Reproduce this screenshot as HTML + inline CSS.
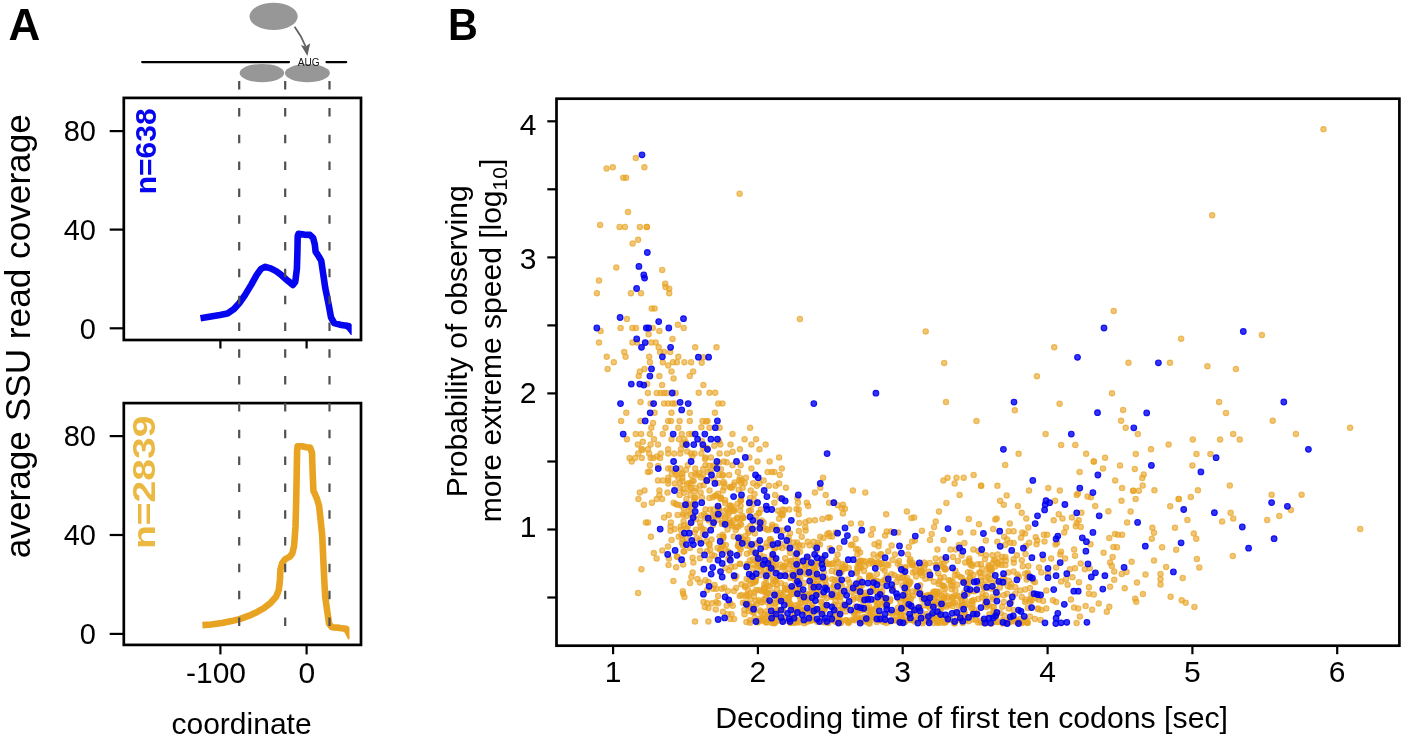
<!DOCTYPE html>
<html><head><meta charset="utf-8"><style>
html,body{margin:0;padding:0;background:#fff;width:1405px;height:740px;overflow:hidden}
svg{display:block;filter:blur(0.5px);font-family:"Liberation Sans",sans-serif}
</style></head><body>
<svg width="1405" height="740" viewBox="0 0 1405 740">
<rect width="1405" height="740" fill="#fff"/>
<!-- Panel labels -->
<text x="8.5" y="40" font-size="44" font-weight="bold">A</text>
<text transform="translate(448,40) scale(0.95,1)" font-size="43.5" font-weight="bold">B</text>

<!-- ===== Panel A diagram ===== -->
<g id="diagram">
<ellipse cx="273.6" cy="16.4" rx="24.1" ry="13.7" fill="#979797"/>
<path d="M294.6 26.8 Q301.5 36 305.6 46.5" fill="none" stroke="#606060" stroke-width="1.8"/>
<path d="M300.9 44.9 L305.5 46.6 L310.2 43.3 L307.4 56 Z" fill="#606060"/>
<line x1="142.2" y1="62.1" x2="289" y2="62.1" stroke="#000" stroke-width="2.3" stroke-linecap="round"/>
<line x1="326.5" y1="62.1" x2="346.2" y2="62.1" stroke="#000" stroke-width="2.3" stroke-linecap="round"/>
<ellipse cx="261.95" cy="73.1" rx="22.3" ry="9.2" fill="#979797"/>
<ellipse cx="307.4" cy="73.1" rx="22.5" ry="9.15" fill="#979797"/>
<text x="297.8" y="65.6" font-size="10.1" fill="#111">AUG</text>
</g>

<!-- ===== Panel A1 (blue) ===== -->
<g id="a1">
<polyline fill="none" stroke="#0505f0" stroke-width="6.6" stroke-linejoin="round" points="200.5,318.2 219.9,314.9 227.5,313.4 234,309 239.4,303 244.8,295.4 251.3,284.6 256.7,274.9 261,268.9 265.3,266.8 270.7,268.4 276.1,271.1 281.5,275.2 288,280.9 292.9,284.9 295.3,281.7 296.9,268.7 297.4,252.5 297.7,236.2 298.5,233.8 304.2,234.6 309.9,234.9 313.1,237.9 314.8,244.3 315.6,251.6 318.8,256.5 321.2,260.6 322.9,271.9 325.3,288.2 328.6,304.4 331,317.4 334.2,323 339.9,324.7 346.4,325.8 348.3,326.6"/>
<polygon fill="#0505f0" points="346.4,322.5 350.2,323.1 351.7,324.6 351.7,334.9 350.9,335 346.2,329.1"/>
<rect x="123.8" y="97.9" width="237.2" height="242.1" fill="none" stroke="#000" stroke-width="2.7"/>
<g stroke="#000" stroke-width="2.2">
<line x1="109.7" y1="131.1" x2="123.8" y2="131.1"/>
<line x1="109.7" y1="229.6" x2="123.8" y2="229.6"/>
<line x1="109.7" y1="328.3" x2="123.8" y2="328.3"/>
<line x1="220.4" y1="340" x2="220.4" y2="348.5"/>
<line x1="306.6" y1="340" x2="306.6" y2="348.5"/>
</g>
<g font-size="29" text-anchor="end">
<text x="96" y="141">80</text>
<text x="96" y="239.6">40</text>
<text x="96" y="338.5">0</text>
</g>
<text transform="translate(155.5,108.4) rotate(-90)" font-size="30" font-weight="bold" fill="#0505f0" text-anchor="end">n=638</text>
</g>

<!-- ===== Panel A2 (orange) ===== -->
<g id="a2">
<polyline fill="none" stroke="#e8a323" stroke-width="6.6" stroke-linejoin="round" points="202.4,625.1 211.2,624.5 222,623.1 231.5,621.1 239.6,619.1 249.1,615.7 257.2,611.9 263.9,608.2 270.7,602.8 276.1,596.8 278.8,590 279.9,580.5 280.4,569.7 282.2,563 285.5,558.9 289.6,556.9 292.3,553.5 294.1,546 295.5,526.7 296.2,500.3 296.7,474 297.1,451.1 297.6,446.2 302,446.2 306.4,447.2 310.2,447.6 312,452.9 312.7,474 313.4,490.7 316.9,498.6 319,505.6 320.4,517.9 322.2,535.5 323.4,561.3 324.4,582.6 325.2,596.7 327.2,610.9 329.1,623.7 331.9,627.2 339.7,627.9 345.4,628.7 346.5,629.5"/>
<polygon fill="#e8a323" points="345.4,625.4 348,625.9 349.5,627.6 349.5,638.9 348.3,639.7 344.3,632.3 343.5,632"/>
<rect x="123.8" y="403.1" width="237.2" height="241.8" fill="none" stroke="#000" stroke-width="2.7"/>
<g stroke="#000" stroke-width="2.2">
<line x1="109.7" y1="436.1" x2="123.8" y2="436.1"/>
<line x1="109.7" y1="535" x2="123.8" y2="535"/>
<line x1="109.7" y1="633.9" x2="123.8" y2="633.9"/>
<line x1="220.4" y1="644.9" x2="220.4" y2="654.4"/>
<line x1="306.6" y1="644.9" x2="306.6" y2="654.4"/>
</g>
<g font-size="29" text-anchor="end">
<text x="96" y="446">80</text>
<text x="96" y="544.6">40</text>
<text x="96" y="643.5">0</text>
</g>
<text x="186" y="682.5" font-size="30">-100</text>
<text x="306.8" y="682.5" font-size="30" text-anchor="middle">0</text>
<text x="171.5" y="733.5" font-size="30">coordinate</text>
<text transform="translate(155.4,415.6) rotate(-90) scale(1.22,1)" font-size="32" font-weight="bold" fill="#ebb842" text-anchor="end">n=2839</text>
</g>

<!-- dashed guide lines -->
<g stroke="#505050" stroke-width="2.2" stroke-dasharray="8.5 18.32">
<line x1="239.2" y1="81.1" x2="239.2" y2="640"/>
<line x1="285.2" y1="81.1" x2="285.2" y2="640"/>
<line x1="329.5" y1="81.1" x2="329.5" y2="640"/>
</g>

<text transform="translate(29.6,336.2) rotate(-90)" font-size="35.2" text-anchor="middle">average SSU read coverage</text>

<!-- ===== Panel B ===== -->
<g id="scatter"><g fill="#e8a323" fill-opacity="0.62" stroke="#e8a323" stroke-opacity="0.68" stroke-width="1.1"><circle cx="635.8" cy="158.0" r="2.70"/><circle cx="644.4" cy="167.3" r="2.70"/><circle cx="606.6" cy="168.6" r="2.70"/><circle cx="612.8" cy="167.3" r="2.70"/><circle cx="623.3" cy="177.8" r="2.70"/><circle cx="626.1" cy="177.8" r="2.70"/><circle cx="739.6" cy="193.7" r="2.70"/><circle cx="628.0" cy="212.0" r="2.70"/><circle cx="600.1" cy="224.9" r="2.70"/><circle cx="619.6" cy="226.9" r="2.70"/><circle cx="624.9" cy="226.9" r="2.70"/><circle cx="639.9" cy="226.9" r="2.70"/><circle cx="646.8" cy="226.9" r="2.70"/><circle cx="646.8" cy="226.9" r="2.70"/><circle cx="638.1" cy="239.8" r="2.70"/><circle cx="632.6" cy="243.6" r="2.70"/><circle cx="616.3" cy="267.6" r="2.70"/><circle cx="662.2" cy="270.0" r="2.70"/><circle cx="599.0" cy="280.6" r="2.70"/><circle cx="665.2" cy="283.8" r="2.70"/><circle cx="665.5" cy="287.0" r="2.70"/><circle cx="669.2" cy="288.7" r="2.70"/><circle cx="669.2" cy="293.2" r="2.70"/><circle cx="596.9" cy="293.2" r="2.70"/><circle cx="630.9" cy="293.2" r="2.70"/><circle cx="641.0" cy="293.2" r="2.70"/><circle cx="651.7" cy="308.6" r="2.70"/><circle cx="654.6" cy="308.6" r="2.70"/><circle cx="626.9" cy="319.0" r="2.70"/><circle cx="678.0" cy="324.8" r="2.70"/><circle cx="799.9" cy="319.0" r="2.70"/><circle cx="1323.5" cy="129.3" r="2.70"/><circle cx="1212.2" cy="215.2" r="2.70"/><circle cx="1113.7" cy="310.9" r="2.70"/><circle cx="620.6" cy="328.0" r="2.70"/><circle cx="632.4" cy="328.0" r="2.70"/><circle cx="636.0" cy="328.0" r="2.70"/><circle cx="652.8" cy="328.0" r="2.70"/><circle cx="683.7" cy="328.0" r="2.70"/><circle cx="600.6" cy="331.1" r="2.70"/><circle cx="659.4" cy="331.1" r="2.70"/><circle cx="648.6" cy="334.2" r="2.70"/><circle cx="672.5" cy="338.9" r="2.70"/><circle cx="599.0" cy="342.6" r="2.70"/><circle cx="632.4" cy="342.6" r="2.70"/><circle cx="637.1" cy="342.6" r="2.70"/><circle cx="651.3" cy="342.6" r="2.70"/><circle cx="655.7" cy="342.6" r="2.70"/><circle cx="658.7" cy="347.3" r="2.70"/><circle cx="695.2" cy="347.3" r="2.70"/><circle cx="624.2" cy="352.0" r="2.70"/><circle cx="660.1" cy="352.0" r="2.70"/><circle cx="670.2" cy="352.0" r="2.70"/><circle cx="664.1" cy="352.0" r="2.70"/><circle cx="606.7" cy="356.8" r="2.70"/><circle cx="625.6" cy="356.8" r="2.70"/><circle cx="649.2" cy="356.8" r="2.70"/><circle cx="678.3" cy="356.8" r="2.70"/><circle cx="613.8" cy="362.2" r="2.70"/><circle cx="649.9" cy="362.2" r="2.70"/><circle cx="662.8" cy="362.2" r="2.70"/><circle cx="672.9" cy="362.2" r="2.70"/><circle cx="676.9" cy="362.2" r="2.70"/><circle cx="684.4" cy="362.2" r="2.70"/><circle cx="691.1" cy="362.2" r="2.70"/><circle cx="668.2" cy="365.5" r="2.70"/><circle cx="607.6" cy="368.9" r="2.70"/><circle cx="644.5" cy="368.9" r="2.70"/><circle cx="639.8" cy="371.6" r="2.70"/><circle cx="671.5" cy="371.6" r="2.70"/><circle cx="693.2" cy="371.6" r="2.70"/><circle cx="638.7" cy="376.1" r="2.70"/><circle cx="659.4" cy="376.1" r="2.70"/><circle cx="689.8" cy="376.1" r="2.70"/><circle cx="673.6" cy="378.4" r="2.70"/><circle cx="647.2" cy="384.1" r="2.70"/><circle cx="662.1" cy="385.1" r="2.70"/><circle cx="647.9" cy="393.0" r="2.70"/><circle cx="656.7" cy="393.0" r="2.70"/><circle cx="660.7" cy="393.0" r="2.70"/><circle cx="664.1" cy="393.0" r="2.70"/><circle cx="666.8" cy="393.0" r="2.70"/><circle cx="675.6" cy="393.0" r="2.70"/><circle cx="640.5" cy="402.0" r="2.70"/><circle cx="650.6" cy="403.6" r="2.70"/><circle cx="664.1" cy="403.6" r="2.70"/><circle cx="668.2" cy="403.6" r="2.70"/><circle cx="672.2" cy="403.6" r="2.70"/><circle cx="674.9" cy="403.6" r="2.70"/><circle cx="626.3" cy="412.8" r="2.70"/><circle cx="654.6" cy="412.8" r="2.70"/><circle cx="671.5" cy="412.8" r="2.70"/><circle cx="689.8" cy="412.8" r="2.70"/><circle cx="621.1" cy="420.9" r="2.70"/><circle cx="640.5" cy="420.9" r="2.70"/><circle cx="668.2" cy="420.9" r="2.70"/><circle cx="670.9" cy="420.9" r="2.70"/><circle cx="679.6" cy="420.9" r="2.70"/><circle cx="689.8" cy="420.9" r="2.70"/><circle cx="716.5" cy="347.3" r="2.70"/><circle cx="703.4" cy="357.2" r="2.70"/><circle cx="701.7" cy="362.8" r="2.70"/><circle cx="703.4" cy="385.1" r="2.70"/><circle cx="698.7" cy="392.8" r="2.70"/><circle cx="709.5" cy="392.8" r="2.70"/><circle cx="715.2" cy="392.8" r="2.70"/><circle cx="718.3" cy="403.6" r="2.70"/><circle cx="722.4" cy="403.6" r="2.70"/><circle cx="714.9" cy="412.8" r="2.70"/><circle cx="702.5" cy="420.9" r="2.70"/><circle cx="707.5" cy="420.9" r="2.70"/><circle cx="925.7" cy="331.4" r="2.70"/><circle cx="1054.2" cy="347.3" r="2.70"/><circle cx="944.2" cy="362.9" r="2.70"/><circle cx="1036.9" cy="376.2" r="2.70"/><circle cx="1112.0" cy="393.2" r="2.70"/><circle cx="946.0" cy="402.1" r="2.70"/><circle cx="1059.6" cy="403.7" r="2.70"/><circle cx="1014.8" cy="410.3" r="2.70"/><circle cx="976.5" cy="421.1" r="2.70"/><circle cx="1261.9" cy="335.1" r="2.70"/><circle cx="1181.1" cy="338.7" r="2.70"/><circle cx="1128.5" cy="362.8" r="2.70"/><circle cx="1170.0" cy="362.8" r="2.70"/><circle cx="1207.4" cy="366.2" r="2.70"/><circle cx="1235.9" cy="369.1" r="2.70"/><circle cx="1219.1" cy="402.0" r="2.70"/><circle cx="1123.1" cy="409.9" r="2.70"/><circle cx="1226.0" cy="412.9" r="2.70"/><circle cx="1121.1" cy="420.8" r="2.70"/><circle cx="1272.7" cy="420.8" r="2.70"/><circle cx="651.3" cy="427.7" r="2.70"/><circle cx="665.5" cy="427.7" r="2.70"/><circle cx="678.3" cy="427.7" r="2.70"/><circle cx="635.7" cy="434.1" r="2.70"/><circle cx="641.1" cy="434.1" r="2.70"/><circle cx="649.9" cy="434.1" r="2.70"/><circle cx="662.8" cy="434.1" r="2.70"/><circle cx="681.7" cy="434.1" r="2.70"/><circle cx="689.1" cy="434.1" r="2.70"/><circle cx="691.8" cy="434.1" r="2.70"/><circle cx="626.9" cy="439.2" r="2.70"/><circle cx="654.0" cy="439.2" r="2.70"/><circle cx="671.5" cy="439.2" r="2.70"/><circle cx="679.0" cy="439.2" r="2.70"/><circle cx="684.4" cy="439.2" r="2.70"/><circle cx="637.8" cy="444.6" r="2.70"/><circle cx="650.6" cy="444.6" r="2.70"/><circle cx="658.0" cy="444.6" r="2.70"/><circle cx="647.9" cy="449.3" r="2.70"/><circle cx="668.2" cy="449.3" r="2.70"/><circle cx="681.0" cy="449.3" r="2.70"/><circle cx="638.2" cy="453.6" r="2.70"/><circle cx="649.2" cy="453.6" r="2.70"/><circle cx="660.7" cy="453.6" r="2.70"/><circle cx="668.2" cy="453.6" r="2.70"/><circle cx="674.2" cy="453.6" r="2.70"/><circle cx="680.3" cy="453.6" r="2.70"/><circle cx="691.1" cy="453.6" r="2.70"/><circle cx="694.5" cy="453.6" r="2.70"/><circle cx="629.6" cy="458.1" r="2.70"/><circle cx="635.1" cy="458.1" r="2.70"/><circle cx="641.8" cy="458.1" r="2.70"/><circle cx="650.6" cy="458.1" r="2.70"/><circle cx="653.3" cy="458.1" r="2.70"/><circle cx="660.1" cy="458.1" r="2.70"/><circle cx="631.7" cy="461.5" r="2.70"/><circle cx="649.9" cy="465.3" r="2.70"/><circle cx="687.8" cy="465.3" r="2.70"/><circle cx="668.2" cy="468.6" r="2.70"/><circle cx="670.9" cy="468.6" r="2.70"/><circle cx="680.3" cy="468.6" r="2.70"/><circle cx="695.2" cy="468.6" r="2.70"/><circle cx="647.9" cy="472.0" r="2.70"/><circle cx="674.9" cy="472.0" r="2.70"/><circle cx="691.1" cy="475.0" r="2.70"/><circle cx="676.3" cy="475.0" r="2.70"/><circle cx="668.2" cy="477.7" r="2.70"/><circle cx="678.3" cy="477.7" r="2.70"/><circle cx="682.4" cy="477.7" r="2.70"/><circle cx="658.0" cy="480.4" r="2.70"/><circle cx="662.8" cy="480.4" r="2.70"/><circle cx="668.2" cy="480.4" r="2.70"/><circle cx="692.5" cy="480.4" r="2.70"/><circle cx="668.2" cy="483.4" r="2.70"/><circle cx="674.9" cy="483.4" r="2.70"/><circle cx="691.1" cy="483.4" r="2.70"/><circle cx="644.5" cy="490.5" r="2.70"/><circle cx="659.4" cy="490.5" r="2.70"/><circle cx="639.8" cy="492.6" r="2.70"/><circle cx="667.5" cy="492.6" r="2.70"/><circle cx="659.4" cy="495.0" r="2.70"/><circle cx="679.6" cy="495.0" r="2.70"/><circle cx="690.5" cy="495.0" r="2.70"/><circle cx="638.4" cy="499.1" r="2.70"/><circle cx="656.7" cy="499.1" r="2.70"/><circle cx="662.1" cy="499.1" r="2.70"/><circle cx="686.4" cy="499.1" r="2.70"/><circle cx="673.6" cy="502.7" r="2.70"/><circle cx="675.6" cy="504.1" r="2.70"/><circle cx="651.9" cy="502.7" r="2.70"/><circle cx="643.8" cy="504.7" r="2.70"/><circle cx="677.6" cy="504.7" r="2.70"/><circle cx="683.7" cy="508.1" r="2.70"/><circle cx="691.1" cy="508.1" r="2.70"/><circle cx="677.6" cy="514.9" r="2.70"/><circle cx="683.0" cy="514.9" r="2.70"/><circle cx="668.8" cy="514.9" r="2.70"/><circle cx="664.1" cy="517.6" r="2.70"/><circle cx="645.9" cy="522.6" r="2.70"/><circle cx="647.9" cy="522.6" r="2.70"/><circle cx="670.9" cy="522.6" r="2.70"/><circle cx="719.6" cy="427.7" r="2.70"/><circle cx="709.5" cy="427.7" r="2.70"/><circle cx="750.1" cy="427.7" r="2.70"/><circle cx="732.5" cy="434.1" r="2.70"/><circle cx="744.6" cy="439.2" r="2.70"/><circle cx="756.1" cy="439.2" r="2.70"/><circle cx="720.3" cy="444.6" r="2.70"/><circle cx="730.5" cy="444.6" r="2.70"/><circle cx="751.4" cy="444.6" r="2.70"/><circle cx="765.6" cy="444.6" r="2.70"/><circle cx="739.9" cy="449.3" r="2.70"/><circle cx="759.5" cy="449.3" r="2.70"/><circle cx="719.6" cy="453.6" r="2.70"/><circle cx="727.1" cy="453.6" r="2.70"/><circle cx="701.4" cy="453.6" r="2.70"/><circle cx="705.5" cy="457.4" r="2.70"/><circle cx="710.9" cy="457.4" r="2.70"/><circle cx="749.4" cy="457.4" r="2.70"/><circle cx="779.1" cy="457.4" r="2.70"/><circle cx="723.7" cy="461.5" r="2.70"/><circle cx="757.5" cy="461.5" r="2.70"/><circle cx="769.6" cy="461.5" r="2.70"/><circle cx="705.5" cy="465.3" r="2.70"/><circle cx="732.5" cy="465.3" r="2.70"/><circle cx="740.6" cy="465.3" r="2.70"/><circle cx="751.4" cy="468.6" r="2.70"/><circle cx="781.8" cy="468.6" r="2.70"/><circle cx="737.9" cy="472.0" r="2.70"/><circle cx="767.6" cy="472.0" r="2.70"/><circle cx="771.7" cy="472.0" r="2.70"/><circle cx="774.4" cy="472.0" r="2.70"/><circle cx="729.1" cy="475.0" r="2.70"/><circle cx="719.0" cy="475.0" r="2.70"/><circle cx="723.0" cy="475.0" r="2.70"/><circle cx="702.8" cy="475.0" r="2.70"/><circle cx="779.8" cy="475.0" r="2.70"/><circle cx="746.0" cy="477.7" r="2.70"/><circle cx="823.0" cy="477.7" r="2.70"/><circle cx="739.9" cy="477.7" r="2.70"/><circle cx="739.2" cy="480.4" r="2.70"/><circle cx="763.6" cy="480.4" r="2.70"/><circle cx="724.4" cy="483.4" r="2.70"/><circle cx="759.5" cy="483.4" r="2.70"/><circle cx="779.1" cy="483.4" r="2.70"/><circle cx="700.1" cy="485.8" r="2.70"/><circle cx="756.8" cy="485.8" r="2.70"/><circle cx="769.0" cy="485.8" r="2.70"/><circle cx="775.7" cy="485.8" r="2.70"/><circle cx="731.8" cy="487.8" r="2.70"/><circle cx="742.6" cy="487.8" r="2.70"/><circle cx="785.9" cy="487.8" r="2.70"/><circle cx="820.3" cy="487.8" r="2.70"/><circle cx="709.5" cy="490.5" r="2.70"/><circle cx="750.7" cy="490.5" r="2.70"/><circle cx="723.0" cy="490.5" r="2.70"/><circle cx="814.9" cy="492.6" r="2.70"/><circle cx="775.1" cy="495.0" r="2.70"/><circle cx="825.7" cy="495.0" r="2.70"/><circle cx="709.5" cy="498.0" r="2.70"/><circle cx="720.3" cy="498.0" r="2.70"/><circle cx="750.1" cy="498.0" r="2.70"/><circle cx="779.8" cy="498.0" r="2.70"/><circle cx="797.4" cy="498.0" r="2.70"/><circle cx="740.6" cy="500.7" r="2.70"/><circle cx="774.4" cy="502.7" r="2.70"/><circle cx="798.0" cy="502.7" r="2.70"/><circle cx="829.1" cy="502.7" r="2.70"/><circle cx="806.8" cy="502.7" r="2.70"/><circle cx="731.8" cy="506.1" r="2.70"/><circle cx="740.6" cy="506.1" r="2.70"/><circle cx="808.2" cy="506.1" r="2.70"/><circle cx="705.5" cy="509.5" r="2.70"/><circle cx="782.5" cy="509.5" r="2.70"/><circle cx="789.2" cy="509.5" r="2.70"/><circle cx="798.7" cy="509.5" r="2.70"/><circle cx="760.9" cy="509.5" r="2.70"/><circle cx="704.1" cy="514.2" r="2.70"/><circle cx="728.4" cy="514.2" r="2.70"/><circle cx="782.5" cy="514.2" r="2.70"/><circle cx="798.7" cy="514.2" r="2.70"/><circle cx="743.3" cy="517.6" r="2.70"/><circle cx="829.8" cy="517.6" r="2.70"/><circle cx="805.5" cy="522.3" r="2.70"/><circle cx="814.9" cy="520.3" r="2.70"/><circle cx="700.1" cy="522.6" r="2.70"/><circle cx="763.6" cy="522.6" r="2.70"/><circle cx="852.9" cy="490.5" r="2.70"/><circle cx="865.3" cy="492.6" r="2.70"/><circle cx="841.7" cy="508.1" r="2.70"/><circle cx="943.4" cy="480.4" r="2.70"/><circle cx="947.5" cy="477.7" r="2.70"/><circle cx="956.5" cy="477.7" r="2.70"/><circle cx="963.7" cy="477.7" r="2.70"/><circle cx="973.6" cy="475.0" r="2.70"/><circle cx="954.6" cy="483.4" r="2.70"/><circle cx="959.6" cy="494.9" r="2.70"/><circle cx="906.9" cy="511.5" r="2.70"/><circle cx="914.1" cy="517.6" r="2.70"/><circle cx="939.0" cy="511.5" r="2.70"/><circle cx="935.7" cy="521.6" r="2.70"/><circle cx="850.9" cy="523.6" r="2.70"/><circle cx="861.0" cy="523.6" r="2.70"/><circle cx="1045.6" cy="434.1" r="2.70"/><circle cx="1061.1" cy="444.9" r="2.70"/><circle cx="1075.3" cy="444.9" r="2.70"/><circle cx="1018.6" cy="453.8" r="2.70"/><circle cx="1086.1" cy="453.8" r="2.70"/><circle cx="1105.1" cy="457.8" r="2.70"/><circle cx="1093.8" cy="461.5" r="2.70"/><circle cx="1093.8" cy="461.5" r="2.70"/><circle cx="1103.0" cy="468.6" r="2.70"/><circle cx="1079.6" cy="472.0" r="2.70"/><circle cx="1115.2" cy="480.4" r="2.70"/><circle cx="981.1" cy="485.8" r="2.70"/><circle cx="981.1" cy="485.8" r="2.70"/><circle cx="997.4" cy="485.8" r="2.70"/><circle cx="1048.3" cy="488.1" r="2.70"/><circle cx="1059.8" cy="490.5" r="2.70"/><circle cx="1029.0" cy="490.5" r="2.70"/><circle cx="1078.0" cy="493.6" r="2.70"/><circle cx="1076.7" cy="495.0" r="2.70"/><circle cx="1087.5" cy="496.6" r="2.70"/><circle cx="1090.9" cy="497.3" r="2.70"/><circle cx="1000.1" cy="500.7" r="2.70"/><circle cx="1003.7" cy="504.7" r="2.70"/><circle cx="1055.1" cy="500.7" r="2.70"/><circle cx="1017.9" cy="506.1" r="2.70"/><circle cx="1095.2" cy="506.1" r="2.70"/><circle cx="1108.4" cy="511.2" r="2.70"/><circle cx="1021.7" cy="512.8" r="2.70"/><circle cx="1058.7" cy="514.2" r="2.70"/><circle cx="1081.4" cy="512.8" r="2.70"/><circle cx="996.7" cy="518.6" r="2.70"/><circle cx="1026.3" cy="518.6" r="2.70"/><circle cx="1062.5" cy="518.6" r="2.70"/><circle cx="1053.7" cy="520.3" r="2.70"/><circle cx="1071.9" cy="517.6" r="2.70"/><circle cx="1078.7" cy="520.3" r="2.70"/><circle cx="1076.7" cy="523.0" r="2.70"/><circle cx="979.0" cy="524.3" r="2.70"/><circle cx="1009.8" cy="523.4" r="2.70"/><circle cx="1125.7" cy="427.8" r="2.70"/><circle cx="1350.1" cy="427.8" r="2.70"/><circle cx="1137.8" cy="434.1" r="2.70"/><circle cx="1192.8" cy="439.6" r="2.70"/><circle cx="1220.1" cy="439.6" r="2.70"/><circle cx="1233.2" cy="434.1" r="2.70"/><circle cx="1239.7" cy="439.6" r="2.70"/><circle cx="1295.9" cy="434.1" r="2.70"/><circle cx="1168.6" cy="444.6" r="2.70"/><circle cx="1151.0" cy="449.3" r="2.70"/><circle cx="1135.8" cy="453.9" r="2.70"/><circle cx="1196.5" cy="453.9" r="2.70"/><circle cx="1210.4" cy="453.9" r="2.70"/><circle cx="1120.0" cy="465.4" r="2.70"/><circle cx="1192.4" cy="465.4" r="2.70"/><circle cx="1134.8" cy="468.9" r="2.70"/><circle cx="1143.7" cy="474.5" r="2.70"/><circle cx="1142.3" cy="478.0" r="2.70"/><circle cx="1142.7" cy="485.6" r="2.70"/><circle cx="1229.8" cy="485.6" r="2.70"/><circle cx="1122.1" cy="488.1" r="2.70"/><circle cx="1133.2" cy="490.7" r="2.70"/><circle cx="1133.2" cy="490.7" r="2.70"/><circle cx="1138.8" cy="490.7" r="2.70"/><circle cx="1154.4" cy="490.3" r="2.70"/><circle cx="1197.9" cy="490.3" r="2.70"/><circle cx="1190.8" cy="497.0" r="2.70"/><circle cx="1178.7" cy="499.0" r="2.70"/><circle cx="1178.7" cy="499.0" r="2.70"/><circle cx="1271.6" cy="494.7" r="2.70"/><circle cx="1301.6" cy="494.7" r="2.70"/><circle cx="1121.5" cy="500.8" r="2.70"/><circle cx="1135.6" cy="499.0" r="2.70"/><circle cx="1290.9" cy="509.9" r="2.70"/><circle cx="1170.2" cy="506.3" r="2.70"/><circle cx="1130.6" cy="511.5" r="2.70"/><circle cx="1230.6" cy="512.7" r="2.70"/><circle cx="1233.2" cy="518.6" r="2.70"/><circle cx="1187.4" cy="520.0" r="2.70"/><circle cx="1222.1" cy="521.6" r="2.70"/><circle cx="1267.2" cy="520.0" r="2.70"/><circle cx="1279.3" cy="516.0" r="2.70"/><circle cx="1127.1" cy="522.4" r="2.70"/><circle cx="670.5" cy="526.6" r="2.70"/><circle cx="674.6" cy="529.1" r="2.70"/><circle cx="670.5" cy="530.7" r="2.70"/><circle cx="681.1" cy="529.9" r="2.70"/><circle cx="694.7" cy="532.4" r="2.70"/><circle cx="650.9" cy="536.8" r="2.70"/><circle cx="678.7" cy="536.8" r="2.70"/><circle cx="671.6" cy="540.0" r="2.70"/><circle cx="681.9" cy="543.0" r="2.70"/><circle cx="668.0" cy="546.6" r="2.70"/><circle cx="662.3" cy="550.4" r="2.70"/><circle cx="684.4" cy="551.2" r="2.70"/><circle cx="690.1" cy="547.9" r="2.70"/><circle cx="653.8" cy="553.1" r="2.70"/><circle cx="677.0" cy="556.4" r="2.70"/><circle cx="656.6" cy="558.5" r="2.70"/><circle cx="668.9" cy="558.5" r="2.70"/><circle cx="692.6" cy="557.7" r="2.70"/><circle cx="693.4" cy="562.6" r="2.70"/><circle cx="668.5" cy="565.1" r="2.70"/><circle cx="676.2" cy="567.2" r="2.70"/><circle cx="683.2" cy="564.6" r="2.70"/><circle cx="641.4" cy="569.2" r="2.70"/><circle cx="692.6" cy="572.4" r="2.70"/><circle cx="691.4" cy="577.0" r="2.70"/><circle cx="673.4" cy="580.9" r="2.70"/><circle cx="690.1" cy="583.1" r="2.70"/><circle cx="638.1" cy="592.9" r="2.70"/><circle cx="682.8" cy="591.2" r="2.70"/><circle cx="683.2" cy="593.7" r="2.70"/><circle cx="684.4" cy="597.0" r="2.70"/><circle cx="695.0" cy="621.5" r="2.70"/><circle cx="872.8" cy="529.1" r="2.70"/><circle cx="886.7" cy="531.5" r="2.70"/><circle cx="890.8" cy="531.5" r="2.70"/><circle cx="898.2" cy="532.4" r="2.70"/><circle cx="921.9" cy="530.7" r="2.70"/><circle cx="934.1" cy="527.0" r="2.70"/><circle cx="931.7" cy="534.0" r="2.70"/><circle cx="960.3" cy="532.4" r="2.70"/><circle cx="973.4" cy="532.4" r="2.70"/><circle cx="855.6" cy="538.9" r="2.70"/><circle cx="871.2" cy="534.8" r="2.70"/><circle cx="885.1" cy="535.6" r="2.70"/><circle cx="930.0" cy="540.0" r="2.70"/><circle cx="912.1" cy="541.4" r="2.70"/><circle cx="891.6" cy="545.4" r="2.70"/><circle cx="908.8" cy="547.1" r="2.70"/><circle cx="878.5" cy="546.3" r="2.70"/><circle cx="852.4" cy="544.6" r="2.70"/><circle cx="937.4" cy="549.5" r="2.70"/><circle cx="950.5" cy="549.5" r="2.70"/><circle cx="973.4" cy="549.5" r="2.70"/><circle cx="857.3" cy="554.4" r="2.70"/><circle cx="873.6" cy="554.4" r="2.70"/><circle cx="880.2" cy="554.4" r="2.70"/><circle cx="894.9" cy="554.4" r="2.70"/><circle cx="908.0" cy="554.4" r="2.70"/><circle cx="858.1" cy="549.5" r="2.70"/><circle cx="888.3" cy="551.2" r="2.70"/><circle cx="910.4" cy="559.3" r="2.70"/><circle cx="899.0" cy="561.0" r="2.70"/><circle cx="924.3" cy="562.6" r="2.70"/><circle cx="957.9" cy="561.0" r="2.70"/><circle cx="965.2" cy="562.6" r="2.70"/><circle cx="971.8" cy="564.3" r="2.70"/><circle cx="863.0" cy="561.0" r="2.70"/><circle cx="868.7" cy="563.4" r="2.70"/><circle cx="872.0" cy="561.0" r="2.70"/><circle cx="879.3" cy="564.3" r="2.70"/><circle cx="886.7" cy="564.3" r="2.70"/><circle cx="839.3" cy="547.9" r="2.70"/><circle cx="837.6" cy="554.4" r="2.70"/><circle cx="941.5" cy="559.3" r="2.70"/><circle cx="940.7" cy="565.1" r="2.70"/><circle cx="912.9" cy="572.4" r="2.70"/><circle cx="916.1" cy="576.5" r="2.70"/><circle cx="955.4" cy="570.8" r="2.70"/><circle cx="938.2" cy="573.2" r="2.70"/><circle cx="970.1" cy="577.3" r="2.70"/><circle cx="876.9" cy="574.1" r="2.70"/><circle cx="891.6" cy="574.1" r="2.70"/><circle cx="882.6" cy="568.3" r="2.70"/><circle cx="842.5" cy="564.3" r="2.70"/><circle cx="857.3" cy="567.5" r="2.70"/><circle cx="898.2" cy="577.3" r="2.70"/><circle cx="943.9" cy="577.3" r="2.70"/><circle cx="950.5" cy="580.6" r="2.70"/><circle cx="993.2" cy="529.1" r="2.70"/><circle cx="1008.7" cy="531.2" r="2.70"/><circle cx="1013.6" cy="531.2" r="2.70"/><circle cx="1028.3" cy="527.5" r="2.70"/><circle cx="1066.0" cy="527.5" r="2.70"/><circle cx="1075.8" cy="526.3" r="2.70"/><circle cx="1080.7" cy="527.0" r="2.70"/><circle cx="1115.0" cy="534.0" r="2.70"/><circle cx="1109.3" cy="538.1" r="2.70"/><circle cx="1090.5" cy="544.3" r="2.70"/><circle cx="985.8" cy="540.5" r="2.70"/><circle cx="997.3" cy="541.7" r="2.70"/><circle cx="1007.1" cy="539.4" r="2.70"/><circle cx="1010.3" cy="542.7" r="2.70"/><circle cx="1013.6" cy="543.0" r="2.70"/><circle cx="1021.0" cy="537.8" r="2.70"/><circle cx="1029.2" cy="542.7" r="2.70"/><circle cx="1035.7" cy="537.3" r="2.70"/><circle cx="1037.3" cy="540.5" r="2.70"/><circle cx="1036.5" cy="544.3" r="2.70"/><circle cx="1043.9" cy="534.8" r="2.70"/><circle cx="1047.1" cy="534.8" r="2.70"/><circle cx="1057.0" cy="543.0" r="2.70"/><circle cx="1064.3" cy="532.4" r="2.70"/><circle cx="1074.1" cy="549.5" r="2.70"/><circle cx="1075.0" cy="555.7" r="2.70"/><circle cx="1103.6" cy="552.8" r="2.70"/><circle cx="1112.6" cy="556.9" r="2.70"/><circle cx="1113.4" cy="547.1" r="2.70"/><circle cx="985.0" cy="559.3" r="2.70"/><circle cx="992.4" cy="555.3" r="2.70"/><circle cx="994.0" cy="560.2" r="2.70"/><circle cx="1002.2" cy="556.9" r="2.70"/><circle cx="1005.4" cy="556.9" r="2.70"/><circle cx="1013.6" cy="559.3" r="2.70"/><circle cx="1016.9" cy="555.3" r="2.70"/><circle cx="1021.8" cy="560.2" r="2.70"/><circle cx="1028.3" cy="565.9" r="2.70"/><circle cx="1039.0" cy="567.5" r="2.70"/><circle cx="1043.1" cy="559.3" r="2.70"/><circle cx="1051.2" cy="558.5" r="2.70"/><circle cx="1056.1" cy="567.5" r="2.70"/><circle cx="1060.2" cy="554.4" r="2.70"/><circle cx="1065.1" cy="558.5" r="2.70"/><circle cx="1070.0" cy="569.2" r="2.70"/><circle cx="1075.0" cy="568.3" r="2.70"/><circle cx="1080.7" cy="563.4" r="2.70"/><circle cx="1084.8" cy="569.2" r="2.70"/><circle cx="1089.7" cy="568.3" r="2.70"/><circle cx="1110.1" cy="562.6" r="2.70"/><circle cx="1111.8" cy="565.9" r="2.70"/><circle cx="1114.2" cy="571.6" r="2.70"/><circle cx="977.6" cy="564.3" r="2.70"/><circle cx="980.9" cy="564.3" r="2.70"/><circle cx="988.3" cy="568.3" r="2.70"/><circle cx="991.5" cy="568.8" r="2.70"/><circle cx="1001.4" cy="565.1" r="2.70"/><circle cx="1005.4" cy="565.1" r="2.70"/><circle cx="1013.6" cy="571.6" r="2.70"/><circle cx="1025.1" cy="573.7" r="2.70"/><circle cx="1034.9" cy="582.2" r="2.70"/><circle cx="1041.4" cy="572.4" r="2.70"/><circle cx="1048.0" cy="573.2" r="2.70"/><circle cx="1061.1" cy="581.4" r="2.70"/><circle cx="1066.0" cy="579.0" r="2.70"/><circle cx="1072.5" cy="577.3" r="2.70"/><circle cx="1079.0" cy="582.2" r="2.70"/><circle cx="1067.6" cy="584.7" r="2.70"/><circle cx="1088.9" cy="587.2" r="2.70"/><circle cx="1088.9" cy="593.7" r="2.70"/><circle cx="1093.8" cy="594.5" r="2.70"/><circle cx="1110.1" cy="586.8" r="2.70"/><circle cx="1114.2" cy="579.8" r="2.70"/><circle cx="1046.3" cy="590.4" r="2.70"/><circle cx="1043.1" cy="601.1" r="2.70"/><circle cx="1052.9" cy="600.2" r="2.70"/><circle cx="1056.1" cy="601.9" r="2.70"/><circle cx="1070.9" cy="599.4" r="2.70"/><circle cx="1074.1" cy="607.6" r="2.70"/><circle cx="1078.2" cy="608.4" r="2.70"/><circle cx="1085.6" cy="606.0" r="2.70"/><circle cx="1092.1" cy="609.7" r="2.70"/><circle cx="1098.7" cy="603.5" r="2.70"/><circle cx="1106.8" cy="611.7" r="2.70"/><circle cx="1109.3" cy="606.8" r="2.70"/><circle cx="1079.9" cy="616.6" r="2.70"/><circle cx="1076.6" cy="623.1" r="2.70"/><circle cx="1038.2" cy="609.2" r="2.70"/><circle cx="1041.4" cy="610.1" r="2.70"/><circle cx="1046.3" cy="608.4" r="2.70"/><circle cx="1034.9" cy="619.0" r="2.70"/><circle cx="1040.6" cy="619.9" r="2.70"/><circle cx="979.3" cy="572.4" r="2.70"/><circle cx="980.9" cy="577.3" r="2.70"/><circle cx="985.8" cy="580.6" r="2.70"/><circle cx="1007.9" cy="586.3" r="2.70"/><circle cx="1011.2" cy="583.9" r="2.70"/><circle cx="1015.3" cy="587.2" r="2.70"/><circle cx="1020.2" cy="590.4" r="2.70"/><circle cx="1025.1" cy="589.6" r="2.70"/><circle cx="1030.0" cy="588.0" r="2.70"/><circle cx="1015.3" cy="593.7" r="2.70"/><circle cx="1021.8" cy="597.0" r="2.70"/><circle cx="1025.1" cy="601.9" r="2.70"/><circle cx="1031.6" cy="600.2" r="2.70"/><circle cx="1003.8" cy="595.3" r="2.70"/><circle cx="1007.1" cy="593.7" r="2.70"/><circle cx="982.5" cy="593.7" r="2.70"/><circle cx="985.8" cy="595.3" r="2.70"/><circle cx="992.4" cy="597.0" r="2.70"/><circle cx="1002.2" cy="606.8" r="2.70"/><circle cx="1003.8" cy="601.9" r="2.70"/><circle cx="1008.7" cy="608.4" r="2.70"/><circle cx="1013.6" cy="610.1" r="2.70"/><circle cx="992.4" cy="606.8" r="2.70"/><circle cx="1000.5" cy="613.3" r="2.70"/><circle cx="1004.6" cy="615.8" r="2.70"/><circle cx="1020.2" cy="619.0" r="2.70"/><circle cx="1025.1" cy="619.9" r="2.70"/><circle cx="1027.5" cy="623.1" r="2.70"/><circle cx="1015.3" cy="621.5" r="2.70"/><circle cx="1152.4" cy="527.8" r="2.70"/><circle cx="1154.0" cy="532.7" r="2.70"/><circle cx="1175.0" cy="527.8" r="2.70"/><circle cx="1360.2" cy="529.0" r="2.70"/><circle cx="1118.0" cy="534.7" r="2.70"/><circle cx="1122.1" cy="534.7" r="2.70"/><circle cx="1193.8" cy="533.5" r="2.70"/><circle cx="1196.3" cy="538.7" r="2.70"/><circle cx="1151.8" cy="538.7" r="2.70"/><circle cx="1162.1" cy="547.2" r="2.70"/><circle cx="1117.0" cy="547.2" r="2.70"/><circle cx="1176.2" cy="549.7" r="2.70"/><circle cx="1232.8" cy="555.9" r="2.70"/><circle cx="1196.9" cy="559.0" r="2.70"/><circle cx="1131.6" cy="561.8" r="2.70"/><circle cx="1154.0" cy="560.6" r="2.70"/><circle cx="1199.3" cy="567.4" r="2.70"/><circle cx="1166.1" cy="567.0" r="2.70"/><circle cx="1126.5" cy="571.9" r="2.70"/><circle cx="1121.7" cy="573.9" r="2.70"/><circle cx="1145.5" cy="574.5" r="2.70"/><circle cx="1160.5" cy="573.9" r="2.70"/><circle cx="1160.5" cy="579.2" r="2.70"/><circle cx="1160.5" cy="584.6" r="2.70"/><circle cx="1182.7" cy="578.0" r="2.70"/><circle cx="1137.0" cy="582.4" r="2.70"/><circle cx="1124.7" cy="588.3" r="2.70"/><circle cx="1142.9" cy="594.1" r="2.70"/><circle cx="1170.6" cy="596.8" r="2.70"/><circle cx="1135.2" cy="598.8" r="2.70"/><circle cx="1136.2" cy="601.8" r="2.70"/><circle cx="1181.7" cy="600.2" r="2.70"/><circle cx="1185.7" cy="602.8" r="2.70"/><circle cx="1194.4" cy="606.9" r="2.70"/><circle cx="677.4" cy="557.0" r="2.70"/><circle cx="683.5" cy="551.6" r="2.70"/><circle cx="699.9" cy="558.3" r="2.70"/><circle cx="707.2" cy="551.0" r="2.70"/><circle cx="710.2" cy="549.7" r="2.70"/><circle cx="714.5" cy="555.8" r="2.70"/><circle cx="717.5" cy="547.9" r="2.70"/><circle cx="723.0" cy="544.9" r="2.70"/><circle cx="697.5" cy="578.9" r="2.70"/><circle cx="699.9" cy="582.6" r="2.70"/><circle cx="705.4" cy="580.2" r="2.70"/><circle cx="708.4" cy="582.0" r="2.70"/><circle cx="714.5" cy="585.0" r="2.70"/><circle cx="716.3" cy="588.7" r="2.70"/><circle cx="707.2" cy="589.9" r="2.70"/><circle cx="713.3" cy="588.7" r="2.70"/><circle cx="718.1" cy="596.0" r="2.70"/><circle cx="721.8" cy="588.7" r="2.70"/><circle cx="724.2" cy="587.5" r="2.70"/><circle cx="727.9" cy="591.1" r="2.70"/><circle cx="729.1" cy="570.4" r="2.70"/><circle cx="725.4" cy="568.0" r="2.70"/><circle cx="734.0" cy="591.1" r="2.70"/><circle cx="703.5" cy="602.1" r="2.70"/><circle cx="707.2" cy="603.3" r="2.70"/><circle cx="704.8" cy="606.9" r="2.70"/><circle cx="708.4" cy="608.1" r="2.70"/><circle cx="712.1" cy="603.3" r="2.70"/><circle cx="716.3" cy="602.1" r="2.70"/><circle cx="718.1" cy="603.3" r="2.70"/><circle cx="715.7" cy="609.4" r="2.70"/><circle cx="723.0" cy="611.8" r="2.70"/><circle cx="726.7" cy="605.7" r="2.70"/><circle cx="730.3" cy="603.3" r="2.70"/><circle cx="732.7" cy="605.7" r="2.70"/><circle cx="727.9" cy="614.2" r="2.70"/><circle cx="731.5" cy="614.2" r="2.70"/><circle cx="730.3" cy="619.1" r="2.70"/><circle cx="734.0" cy="619.1" r="2.70"/><circle cx="708.4" cy="621.5" r="2.70"/><circle cx="653.0" cy="423.0" r="2.70"/><circle cx="706.0" cy="421.4" r="2.70"/><circle cx="701.4" cy="427.3" r="2.70"/><circle cx="642.3" cy="450.1" r="2.70"/><circle cx="641.5" cy="448.7" r="2.70"/><circle cx="642.8" cy="441.8" r="2.70"/><circle cx="657.0" cy="456.5" r="2.70"/><circle cx="685.0" cy="444.5" r="2.70"/><circle cx="705.1" cy="459.0" r="2.70"/><circle cx="703.1" cy="447.9" r="2.70"/><circle cx="719.1" cy="440.9" r="2.70"/><circle cx="714.3" cy="445.8" r="2.70"/><circle cx="685.8" cy="442.4" r="2.70"/><circle cx="692.3" cy="456.3" r="2.70"/><circle cx="687.2" cy="451.6" r="2.70"/><circle cx="705.6" cy="447.4" r="2.70"/><circle cx="701.9" cy="441.3" r="2.70"/><circle cx="682.4" cy="444.1" r="2.70"/><circle cx="707.2" cy="448.6" r="2.70"/><circle cx="732.6" cy="451.7" r="2.70"/><circle cx="658.1" cy="466.0" r="2.70"/><circle cx="671.8" cy="474.0" r="2.70"/><circle cx="649.8" cy="471.5" r="2.70"/><circle cx="701.0" cy="477.5" r="2.70"/><circle cx="709.2" cy="465.8" r="2.70"/><circle cx="719.2" cy="462.4" r="2.70"/><circle cx="696.7" cy="475.1" r="2.70"/><circle cx="686.1" cy="469.8" r="2.70"/><circle cx="681.6" cy="473.4" r="2.70"/><circle cx="710.6" cy="471.5" r="2.70"/><circle cx="715.0" cy="466.3" r="2.70"/><circle cx="707.8" cy="471.9" r="2.70"/><circle cx="703.2" cy="469.1" r="2.70"/><circle cx="713.6" cy="478.9" r="2.70"/><circle cx="699.0" cy="473.3" r="2.70"/><circle cx="682.4" cy="474.0" r="2.70"/><circle cx="705.9" cy="479.9" r="2.70"/><circle cx="712.9" cy="465.7" r="2.70"/><circle cx="695.4" cy="473.4" r="2.70"/><circle cx="720.9" cy="469.2" r="2.70"/><circle cx="726.7" cy="462.3" r="2.70"/><circle cx="722.4" cy="475.4" r="2.70"/><circle cx="1005.2" cy="465.0" r="2.70"/><circle cx="695.6" cy="497.4" r="2.70"/><circle cx="683.2" cy="489.0" r="2.70"/><circle cx="702.0" cy="497.7" r="2.70"/><circle cx="712.8" cy="497.3" r="2.70"/><circle cx="691.1" cy="488.3" r="2.70"/><circle cx="694.4" cy="497.7" r="2.70"/><circle cx="718.3" cy="483.0" r="2.70"/><circle cx="687.0" cy="484.6" r="2.70"/><circle cx="689.3" cy="489.7" r="2.70"/><circle cx="703.6" cy="485.3" r="2.70"/><circle cx="680.2" cy="488.4" r="2.70"/><circle cx="694.8" cy="491.3" r="2.70"/><circle cx="718.1" cy="493.8" r="2.70"/><circle cx="700.6" cy="492.4" r="2.70"/><circle cx="707.0" cy="481.1" r="2.70"/><circle cx="716.0" cy="495.6" r="2.70"/><circle cx="715.0" cy="496.0" r="2.70"/><circle cx="695.7" cy="488.0" r="2.70"/><circle cx="684.1" cy="492.7" r="2.70"/><circle cx="682.5" cy="481.3" r="2.70"/><circle cx="688.4" cy="483.2" r="2.70"/><circle cx="693.6" cy="481.1" r="2.70"/><circle cx="680.0" cy="483.0" r="2.70"/><circle cx="724.1" cy="487.3" r="2.70"/><circle cx="721.0" cy="497.5" r="2.70"/><circle cx="744.6" cy="483.0" r="2.70"/><circle cx="730.1" cy="486.9" r="2.70"/><circle cx="734.6" cy="482.5" r="2.70"/><circle cx="754.0" cy="499.9" r="2.70"/><circle cx="738.6" cy="489.7" r="2.70"/><circle cx="723.4" cy="482.0" r="2.70"/><circle cx="733.7" cy="485.3" r="2.70"/><circle cx="753.2" cy="483.2" r="2.70"/><circle cx="720.9" cy="499.0" r="2.70"/><circle cx="741.1" cy="482.9" r="2.70"/><circle cx="741.7" cy="480.5" r="2.70"/><circle cx="741.1" cy="499.6" r="2.70"/><circle cx="754.5" cy="493.9" r="2.70"/><circle cx="730.4" cy="487.3" r="2.70"/><circle cx="1006.7" cy="495.4" r="2.70"/><circle cx="701.3" cy="515.6" r="2.70"/><circle cx="693.2" cy="504.5" r="2.70"/><circle cx="712.5" cy="519.7" r="2.70"/><circle cx="714.1" cy="516.1" r="2.70"/><circle cx="712.7" cy="514.8" r="2.70"/><circle cx="689.1" cy="510.4" r="2.70"/><circle cx="694.2" cy="500.6" r="2.70"/><circle cx="681.1" cy="505.6" r="2.70"/><circle cx="690.4" cy="513.9" r="2.70"/><circle cx="718.3" cy="508.9" r="2.70"/><circle cx="717.5" cy="519.8" r="2.70"/><circle cx="718.2" cy="507.3" r="2.70"/><circle cx="688.8" cy="504.5" r="2.70"/><circle cx="687.9" cy="504.1" r="2.70"/><circle cx="705.0" cy="518.0" r="2.70"/><circle cx="713.6" cy="509.6" r="2.70"/><circle cx="706.1" cy="516.0" r="2.70"/><circle cx="683.4" cy="513.2" r="2.70"/><circle cx="716.4" cy="515.6" r="2.70"/><circle cx="710.0" cy="509.6" r="2.70"/><circle cx="687.1" cy="515.8" r="2.70"/><circle cx="693.3" cy="516.0" r="2.70"/><circle cx="718.9" cy="507.9" r="2.70"/><circle cx="696.1" cy="518.9" r="2.70"/><circle cx="749.0" cy="503.4" r="2.70"/><circle cx="725.1" cy="503.0" r="2.70"/><circle cx="756.2" cy="516.1" r="2.70"/><circle cx="725.8" cy="516.5" r="2.70"/><circle cx="759.2" cy="513.1" r="2.70"/><circle cx="734.0" cy="511.0" r="2.70"/><circle cx="725.2" cy="500.3" r="2.70"/><circle cx="758.8" cy="513.0" r="2.70"/><circle cx="741.1" cy="518.7" r="2.70"/><circle cx="737.4" cy="517.4" r="2.70"/><circle cx="753.0" cy="504.2" r="2.70"/><circle cx="730.1" cy="505.9" r="2.70"/><circle cx="729.6" cy="511.7" r="2.70"/><circle cx="730.4" cy="508.4" r="2.70"/><circle cx="725.2" cy="518.2" r="2.70"/><circle cx="734.2" cy="509.2" r="2.70"/><circle cx="743.3" cy="518.1" r="2.70"/><circle cx="736.8" cy="518.4" r="2.70"/><circle cx="740.1" cy="510.6" r="2.70"/><circle cx="740.9" cy="500.4" r="2.70"/><circle cx="737.6" cy="503.7" r="2.70"/><circle cx="720.2" cy="516.0" r="2.70"/><circle cx="726.9" cy="509.5" r="2.70"/><circle cx="749.0" cy="511.1" r="2.70"/><circle cx="733.0" cy="510.4" r="2.70"/><circle cx="742.2" cy="515.7" r="2.70"/><circle cx="724.2" cy="511.2" r="2.70"/><circle cx="729.9" cy="505.5" r="2.70"/><circle cx="750.9" cy="510.2" r="2.70"/><circle cx="782.5" cy="515.2" r="2.70"/><circle cx="796.5" cy="508.9" r="2.70"/><circle cx="784.5" cy="510.1" r="2.70"/><circle cx="780.5" cy="513.9" r="2.70"/><circle cx="778.1" cy="510.7" r="2.70"/><circle cx="779.1" cy="518.8" r="2.70"/><circle cx="828.0" cy="517.5" r="2.70"/><circle cx="837.7" cy="505.2" r="2.70"/><circle cx="822.4" cy="518.9" r="2.70"/><circle cx="833.6" cy="502.7" r="2.70"/><circle cx="844.9" cy="508.8" r="2.70"/><circle cx="842.9" cy="504.8" r="2.70"/><circle cx="842.9" cy="513.4" r="2.70"/><circle cx="911.4" cy="517.9" r="2.70"/><circle cx="886.2" cy="514.3" r="2.70"/><circle cx="946.4" cy="502.9" r="2.70"/><circle cx="995.3" cy="519.4" r="2.70"/><circle cx="968.8" cy="519.1" r="2.70"/><circle cx="695.9" cy="529.7" r="2.70"/><circle cx="719.6" cy="536.6" r="2.70"/><circle cx="686.5" cy="528.6" r="2.70"/><circle cx="700.6" cy="526.8" r="2.70"/><circle cx="687.8" cy="526.4" r="2.70"/><circle cx="708.9" cy="520.4" r="2.70"/><circle cx="702.2" cy="528.8" r="2.70"/><circle cx="680.7" cy="526.6" r="2.70"/><circle cx="705.0" cy="530.2" r="2.70"/><circle cx="682.6" cy="539.7" r="2.70"/><circle cx="711.5" cy="539.4" r="2.70"/><circle cx="684.2" cy="525.3" r="2.70"/><circle cx="681.6" cy="535.6" r="2.70"/><circle cx="690.8" cy="522.6" r="2.70"/><circle cx="696.9" cy="538.2" r="2.70"/><circle cx="712.8" cy="525.2" r="2.70"/><circle cx="686.0" cy="538.4" r="2.70"/><circle cx="702.8" cy="534.0" r="2.70"/><circle cx="683.6" cy="521.2" r="2.70"/><circle cx="747.5" cy="528.5" r="2.70"/><circle cx="722.9" cy="538.8" r="2.70"/><circle cx="745.4" cy="536.0" r="2.70"/><circle cx="723.3" cy="537.1" r="2.70"/><circle cx="722.7" cy="537.3" r="2.70"/><circle cx="738.2" cy="526.8" r="2.70"/><circle cx="742.1" cy="538.5" r="2.70"/><circle cx="730.7" cy="522.6" r="2.70"/><circle cx="741.1" cy="524.8" r="2.70"/><circle cx="724.4" cy="523.2" r="2.70"/><circle cx="722.0" cy="524.0" r="2.70"/><circle cx="732.5" cy="526.1" r="2.70"/><circle cx="750.4" cy="525.8" r="2.70"/><circle cx="740.0" cy="523.6" r="2.70"/><circle cx="733.9" cy="520.4" r="2.70"/><circle cx="730.0" cy="520.3" r="2.70"/><circle cx="749.3" cy="531.0" r="2.70"/><circle cx="727.6" cy="529.5" r="2.70"/><circle cx="757.4" cy="522.1" r="2.70"/><circle cx="752.8" cy="528.6" r="2.70"/><circle cx="739.8" cy="536.7" r="2.70"/><circle cx="735.7" cy="530.1" r="2.70"/><circle cx="747.5" cy="539.6" r="2.70"/><circle cx="733.7" cy="536.6" r="2.70"/><circle cx="748.3" cy="532.7" r="2.70"/><circle cx="736.2" cy="527.0" r="2.70"/><circle cx="722.2" cy="522.6" r="2.70"/><circle cx="722.8" cy="534.8" r="2.70"/><circle cx="730.2" cy="523.3" r="2.70"/><circle cx="723.4" cy="536.8" r="2.70"/><circle cx="754.8" cy="533.4" r="2.70"/><circle cx="731.3" cy="524.8" r="2.70"/><circle cx="771.7" cy="529.2" r="2.70"/><circle cx="766.3" cy="528.9" r="2.70"/><circle cx="770.5" cy="539.2" r="2.70"/><circle cx="798.9" cy="530.9" r="2.70"/><circle cx="769.8" cy="539.3" r="2.70"/><circle cx="772.4" cy="527.1" r="2.70"/><circle cx="760.0" cy="527.6" r="2.70"/><circle cx="779.0" cy="530.1" r="2.70"/><circle cx="768.0" cy="530.1" r="2.70"/><circle cx="760.2" cy="525.3" r="2.70"/><circle cx="763.6" cy="528.0" r="2.70"/><circle cx="761.7" cy="520.4" r="2.70"/><circle cx="772.2" cy="524.7" r="2.70"/><circle cx="783.4" cy="530.6" r="2.70"/><circle cx="790.0" cy="533.2" r="2.70"/><circle cx="788.6" cy="537.6" r="2.70"/><circle cx="775.6" cy="526.5" r="2.70"/><circle cx="799.4" cy="523.0" r="2.70"/><circle cx="829.0" cy="532.9" r="2.70"/><circle cx="801.8" cy="536.7" r="2.70"/><circle cx="835.7" cy="532.5" r="2.70"/><circle cx="829.4" cy="536.2" r="2.70"/><circle cx="805.6" cy="530.5" r="2.70"/><circle cx="820.2" cy="536.7" r="2.70"/><circle cx="832.2" cy="536.5" r="2.70"/><circle cx="823.4" cy="537.9" r="2.70"/><circle cx="827.3" cy="533.9" r="2.70"/><circle cx="809.2" cy="520.6" r="2.70"/><circle cx="805.3" cy="527.2" r="2.70"/><circle cx="1004.2" cy="536.7" r="2.70"/><circle cx="1022.3" cy="532.6" r="2.70"/><circle cx="1025.0" cy="533.6" r="2.70"/><circle cx="699.6" cy="540.1" r="2.70"/><circle cx="711.9" cy="555.0" r="2.70"/><circle cx="700.1" cy="550.7" r="2.70"/><circle cx="706.4" cy="541.3" r="2.70"/><circle cx="709.5" cy="545.0" r="2.70"/><circle cx="683.0" cy="545.3" r="2.70"/><circle cx="709.2" cy="544.1" r="2.70"/><circle cx="709.6" cy="559.5" r="2.70"/><circle cx="739.8" cy="547.7" r="2.70"/><circle cx="739.2" cy="553.7" r="2.70"/><circle cx="750.7" cy="552.3" r="2.70"/><circle cx="745.7" cy="541.5" r="2.70"/><circle cx="725.9" cy="545.1" r="2.70"/><circle cx="749.7" cy="546.1" r="2.70"/><circle cx="742.7" cy="540.2" r="2.70"/><circle cx="722.4" cy="545.4" r="2.70"/><circle cx="746.9" cy="553.8" r="2.70"/><circle cx="747.0" cy="545.8" r="2.70"/><circle cx="740.7" cy="549.3" r="2.70"/><circle cx="738.7" cy="542.4" r="2.70"/><circle cx="755.7" cy="544.0" r="2.70"/><circle cx="759.1" cy="558.7" r="2.70"/><circle cx="720.7" cy="549.2" r="2.70"/><circle cx="752.8" cy="559.4" r="2.70"/><circle cx="738.0" cy="545.4" r="2.70"/><circle cx="728.4" cy="558.9" r="2.70"/><circle cx="728.4" cy="551.6" r="2.70"/><circle cx="725.7" cy="550.5" r="2.70"/><circle cx="758.1" cy="542.7" r="2.70"/><circle cx="752.8" cy="550.2" r="2.70"/><circle cx="755.5" cy="554.1" r="2.70"/><circle cx="729.3" cy="558.0" r="2.70"/><circle cx="739.4" cy="540.5" r="2.70"/><circle cx="720.1" cy="549.8" r="2.70"/><circle cx="738.0" cy="546.0" r="2.70"/><circle cx="765.6" cy="546.9" r="2.70"/><circle cx="772.6" cy="556.8" r="2.70"/><circle cx="760.1" cy="555.0" r="2.70"/><circle cx="793.6" cy="542.4" r="2.70"/><circle cx="797.1" cy="554.3" r="2.70"/><circle cx="796.1" cy="545.8" r="2.70"/><circle cx="774.9" cy="547.9" r="2.70"/><circle cx="800.0" cy="551.8" r="2.70"/><circle cx="774.4" cy="548.6" r="2.70"/><circle cx="771.0" cy="541.0" r="2.70"/><circle cx="764.1" cy="556.7" r="2.70"/><circle cx="771.4" cy="558.7" r="2.70"/><circle cx="770.0" cy="545.3" r="2.70"/><circle cx="780.4" cy="543.8" r="2.70"/><circle cx="774.9" cy="559.1" r="2.70"/><circle cx="795.4" cy="556.2" r="2.70"/><circle cx="785.2" cy="558.3" r="2.70"/><circle cx="797.6" cy="551.0" r="2.70"/><circle cx="788.8" cy="541.0" r="2.70"/><circle cx="789.3" cy="549.0" r="2.70"/><circle cx="790.1" cy="552.9" r="2.70"/><circle cx="771.4" cy="541.0" r="2.70"/><circle cx="797.1" cy="542.5" r="2.70"/><circle cx="778.9" cy="546.9" r="2.70"/><circle cx="771.9" cy="554.8" r="2.70"/><circle cx="799.1" cy="545.2" r="2.70"/><circle cx="786.2" cy="546.0" r="2.70"/><circle cx="782.3" cy="547.9" r="2.70"/><circle cx="766.7" cy="543.2" r="2.70"/><circle cx="808.3" cy="558.1" r="2.70"/><circle cx="819.9" cy="544.4" r="2.70"/><circle cx="836.3" cy="559.9" r="2.70"/><circle cx="818.0" cy="542.8" r="2.70"/><circle cx="807.7" cy="541.8" r="2.70"/><circle cx="813.7" cy="541.8" r="2.70"/><circle cx="809.6" cy="545.2" r="2.70"/><circle cx="822.8" cy="557.7" r="2.70"/><circle cx="830.0" cy="548.3" r="2.70"/><circle cx="816.6" cy="550.5" r="2.70"/><circle cx="815.1" cy="546.8" r="2.70"/><circle cx="802.5" cy="545.6" r="2.70"/><circle cx="878.7" cy="542.5" r="2.70"/><circle cx="860.1" cy="552.6" r="2.70"/><circle cx="874.5" cy="544.3" r="2.70"/><circle cx="850.8" cy="545.0" r="2.70"/><circle cx="856.0" cy="548.9" r="2.70"/><circle cx="878.2" cy="557.0" r="2.70"/><circle cx="914.9" cy="540.4" r="2.70"/><circle cx="881.3" cy="554.2" r="2.70"/><circle cx="955.8" cy="549.5" r="2.70"/><circle cx="943.5" cy="540.0" r="2.70"/><circle cx="935.7" cy="558.5" r="2.70"/><circle cx="953.0" cy="557.1" r="2.70"/><circle cx="958.9" cy="545.0" r="2.70"/><circle cx="964.4" cy="543.1" r="2.70"/><circle cx="980.9" cy="553.6" r="2.70"/><circle cx="997.7" cy="554.4" r="2.70"/><circle cx="985.9" cy="555.3" r="2.70"/><circle cx="978.3" cy="551.0" r="2.70"/><circle cx="961.6" cy="555.6" r="2.70"/><circle cx="969.3" cy="558.4" r="2.70"/><circle cx="1025.8" cy="546.1" r="2.70"/><circle cx="1005.1" cy="545.0" r="2.70"/><circle cx="1025.5" cy="554.0" r="2.70"/><circle cx="1044.5" cy="541.4" r="2.70"/><circle cx="1061.0" cy="551.7" r="2.70"/><circle cx="1055.5" cy="544.5" r="2.70"/><circle cx="747.3" cy="564.0" r="2.70"/><circle cx="751.9" cy="574.8" r="2.70"/><circle cx="740.2" cy="564.1" r="2.70"/><circle cx="758.8" cy="566.2" r="2.70"/><circle cx="752.8" cy="564.6" r="2.70"/><circle cx="739.8" cy="563.7" r="2.70"/><circle cx="746.6" cy="579.0" r="2.70"/><circle cx="755.9" cy="577.7" r="2.70"/><circle cx="749.3" cy="580.0" r="2.70"/><circle cx="757.3" cy="566.6" r="2.70"/><circle cx="749.9" cy="560.6" r="2.70"/><circle cx="746.6" cy="567.6" r="2.70"/><circle cx="735.0" cy="566.6" r="2.70"/><circle cx="731.2" cy="567.0" r="2.70"/><circle cx="758.2" cy="562.5" r="2.70"/><circle cx="758.6" cy="564.1" r="2.70"/><circle cx="734.3" cy="576.4" r="2.70"/><circle cx="752.9" cy="568.6" r="2.70"/><circle cx="734.9" cy="578.4" r="2.70"/><circle cx="755.9" cy="560.6" r="2.70"/><circle cx="736.4" cy="576.2" r="2.70"/><circle cx="790.7" cy="560.8" r="2.70"/><circle cx="761.4" cy="561.3" r="2.70"/><circle cx="796.8" cy="565.1" r="2.70"/><circle cx="789.9" cy="578.0" r="2.70"/><circle cx="773.6" cy="565.4" r="2.70"/><circle cx="798.3" cy="572.3" r="2.70"/><circle cx="770.5" cy="574.3" r="2.70"/><circle cx="772.7" cy="565.5" r="2.70"/><circle cx="760.2" cy="575.1" r="2.70"/><circle cx="796.7" cy="572.7" r="2.70"/><circle cx="797.7" cy="560.5" r="2.70"/><circle cx="769.4" cy="569.5" r="2.70"/><circle cx="798.3" cy="579.1" r="2.70"/><circle cx="775.5" cy="565.0" r="2.70"/><circle cx="777.2" cy="569.9" r="2.70"/><circle cx="797.1" cy="563.7" r="2.70"/><circle cx="792.1" cy="574.8" r="2.70"/><circle cx="792.9" cy="575.5" r="2.70"/><circle cx="784.3" cy="566.6" r="2.70"/><circle cx="772.8" cy="567.2" r="2.70"/><circle cx="791.3" cy="561.6" r="2.70"/><circle cx="767.9" cy="575.1" r="2.70"/><circle cx="769.9" cy="561.3" r="2.70"/><circle cx="761.4" cy="571.1" r="2.70"/><circle cx="773.0" cy="579.6" r="2.70"/><circle cx="795.3" cy="579.8" r="2.70"/><circle cx="770.6" cy="561.7" r="2.70"/><circle cx="763.9" cy="570.0" r="2.70"/><circle cx="788.4" cy="568.9" r="2.70"/><circle cx="769.4" cy="568.3" r="2.70"/><circle cx="784.8" cy="573.5" r="2.70"/><circle cx="789.9" cy="576.9" r="2.70"/><circle cx="786.6" cy="562.4" r="2.70"/><circle cx="793.6" cy="565.9" r="2.70"/><circle cx="782.7" cy="567.5" r="2.70"/><circle cx="789.5" cy="564.0" r="2.70"/><circle cx="769.9" cy="564.9" r="2.70"/><circle cx="766.1" cy="577.7" r="2.70"/><circle cx="783.1" cy="566.5" r="2.70"/><circle cx="775.8" cy="579.8" r="2.70"/><circle cx="780.3" cy="564.6" r="2.70"/><circle cx="792.3" cy="573.1" r="2.70"/><circle cx="799.6" cy="562.0" r="2.70"/><circle cx="779.0" cy="576.4" r="2.70"/><circle cx="793.6" cy="578.3" r="2.70"/><circle cx="761.6" cy="565.9" r="2.70"/><circle cx="764.8" cy="563.8" r="2.70"/><circle cx="798.9" cy="571.7" r="2.70"/><circle cx="797.2" cy="567.4" r="2.70"/><circle cx="794.6" cy="569.0" r="2.70"/><circle cx="810.4" cy="575.6" r="2.70"/><circle cx="837.8" cy="562.1" r="2.70"/><circle cx="823.8" cy="572.4" r="2.70"/><circle cx="808.7" cy="567.4" r="2.70"/><circle cx="805.7" cy="564.1" r="2.70"/><circle cx="810.2" cy="572.0" r="2.70"/><circle cx="826.1" cy="564.1" r="2.70"/><circle cx="800.5" cy="566.5" r="2.70"/><circle cx="827.1" cy="563.7" r="2.70"/><circle cx="812.5" cy="564.1" r="2.70"/><circle cx="831.8" cy="571.0" r="2.70"/><circle cx="802.5" cy="562.0" r="2.70"/><circle cx="815.8" cy="571.0" r="2.70"/><circle cx="825.6" cy="561.8" r="2.70"/><circle cx="806.5" cy="573.9" r="2.70"/><circle cx="816.4" cy="565.7" r="2.70"/><circle cx="812.3" cy="579.1" r="2.70"/><circle cx="812.5" cy="571.3" r="2.70"/><circle cx="814.3" cy="568.3" r="2.70"/><circle cx="834.6" cy="579.9" r="2.70"/><circle cx="814.6" cy="563.9" r="2.70"/><circle cx="829.1" cy="564.1" r="2.70"/><circle cx="800.2" cy="578.0" r="2.70"/><circle cx="817.0" cy="576.4" r="2.70"/><circle cx="816.2" cy="577.7" r="2.70"/><circle cx="818.4" cy="563.3" r="2.70"/><circle cx="800.6" cy="571.0" r="2.70"/><circle cx="825.6" cy="578.2" r="2.70"/><circle cx="803.6" cy="572.4" r="2.70"/><circle cx="814.8" cy="570.1" r="2.70"/><circle cx="805.8" cy="565.7" r="2.70"/><circle cx="820.8" cy="578.5" r="2.70"/><circle cx="804.4" cy="569.8" r="2.70"/><circle cx="832.2" cy="579.3" r="2.70"/><circle cx="807.9" cy="562.5" r="2.70"/><circle cx="837.7" cy="579.5" r="2.70"/><circle cx="819.3" cy="561.1" r="2.70"/><circle cx="837.0" cy="567.8" r="2.70"/><circle cx="836.2" cy="572.4" r="2.70"/><circle cx="833.0" cy="563.2" r="2.70"/><circle cx="831.4" cy="564.4" r="2.70"/><circle cx="816.2" cy="576.9" r="2.70"/><circle cx="873.2" cy="563.7" r="2.70"/><circle cx="848.7" cy="568.0" r="2.70"/><circle cx="860.7" cy="567.7" r="2.70"/><circle cx="844.9" cy="564.9" r="2.70"/><circle cx="869.0" cy="577.9" r="2.70"/><circle cx="841.6" cy="571.2" r="2.70"/><circle cx="870.3" cy="560.8" r="2.70"/><circle cx="873.5" cy="562.4" r="2.70"/><circle cx="864.0" cy="571.0" r="2.70"/><circle cx="865.1" cy="566.1" r="2.70"/><circle cx="856.8" cy="571.7" r="2.70"/><circle cx="857.0" cy="573.2" r="2.70"/><circle cx="857.9" cy="568.8" r="2.70"/><circle cx="840.9" cy="572.4" r="2.70"/><circle cx="859.6" cy="564.7" r="2.70"/><circle cx="870.5" cy="575.6" r="2.70"/><circle cx="858.3" cy="563.6" r="2.70"/><circle cx="858.9" cy="562.1" r="2.70"/><circle cx="845.1" cy="568.6" r="2.70"/><circle cx="843.7" cy="568.8" r="2.70"/><circle cx="860.4" cy="560.8" r="2.70"/><circle cx="865.5" cy="561.6" r="2.70"/><circle cx="869.3" cy="575.6" r="2.70"/><circle cx="860.5" cy="561.1" r="2.70"/><circle cx="860.2" cy="567.6" r="2.70"/><circle cx="878.0" cy="562.7" r="2.70"/><circle cx="874.3" cy="579.9" r="2.70"/><circle cx="869.3" cy="576.3" r="2.70"/><circle cx="847.7" cy="579.6" r="2.70"/><circle cx="859.7" cy="579.1" r="2.70"/><circle cx="876.6" cy="563.3" r="2.70"/><circle cx="871.5" cy="578.6" r="2.70"/><circle cx="842.6" cy="567.0" r="2.70"/><circle cx="910.2" cy="563.2" r="2.70"/><circle cx="915.9" cy="565.5" r="2.70"/><circle cx="912.6" cy="562.9" r="2.70"/><circle cx="900.1" cy="578.4" r="2.70"/><circle cx="888.3" cy="565.3" r="2.70"/><circle cx="900.2" cy="566.4" r="2.70"/><circle cx="881.5" cy="563.6" r="2.70"/><circle cx="886.4" cy="578.7" r="2.70"/><circle cx="907.2" cy="577.9" r="2.70"/><circle cx="886.7" cy="575.7" r="2.70"/><circle cx="884.6" cy="570.6" r="2.70"/><circle cx="905.5" cy="567.2" r="2.70"/><circle cx="914.9" cy="571.1" r="2.70"/><circle cx="903.2" cy="577.7" r="2.70"/><circle cx="884.2" cy="579.9" r="2.70"/><circle cx="905.2" cy="567.9" r="2.70"/><circle cx="911.9" cy="565.3" r="2.70"/><circle cx="919.6" cy="571.5" r="2.70"/><circle cx="894.4" cy="575.3" r="2.70"/><circle cx="897.7" cy="563.5" r="2.70"/><circle cx="909.7" cy="561.0" r="2.70"/><circle cx="912.8" cy="565.1" r="2.70"/><circle cx="905.6" cy="579.7" r="2.70"/><circle cx="903.4" cy="573.3" r="2.70"/><circle cx="892.5" cy="560.0" r="2.70"/><circle cx="881.4" cy="563.0" r="2.70"/><circle cx="944.6" cy="568.6" r="2.70"/><circle cx="940.5" cy="577.9" r="2.70"/><circle cx="925.3" cy="564.5" r="2.70"/><circle cx="946.1" cy="560.4" r="2.70"/><circle cx="920.1" cy="567.1" r="2.70"/><circle cx="924.3" cy="567.1" r="2.70"/><circle cx="929.0" cy="571.7" r="2.70"/><circle cx="943.6" cy="564.1" r="2.70"/><circle cx="945.0" cy="569.5" r="2.70"/><circle cx="925.4" cy="578.7" r="2.70"/><circle cx="929.7" cy="563.0" r="2.70"/><circle cx="923.8" cy="572.8" r="2.70"/><circle cx="954.9" cy="575.6" r="2.70"/><circle cx="936.1" cy="565.3" r="2.70"/><circle cx="920.5" cy="572.9" r="2.70"/><circle cx="942.5" cy="567.0" r="2.70"/><circle cx="945.8" cy="568.9" r="2.70"/><circle cx="957.5" cy="574.7" r="2.70"/><circle cx="929.9" cy="578.1" r="2.70"/><circle cx="921.8" cy="570.6" r="2.70"/><circle cx="936.2" cy="564.8" r="2.70"/><circle cx="922.3" cy="575.6" r="2.70"/><circle cx="920.5" cy="571.0" r="2.70"/><circle cx="997.6" cy="562.8" r="2.70"/><circle cx="968.0" cy="572.2" r="2.70"/><circle cx="980.3" cy="572.8" r="2.70"/><circle cx="992.5" cy="563.5" r="2.70"/><circle cx="972.4" cy="566.0" r="2.70"/><circle cx="961.9" cy="577.8" r="2.70"/><circle cx="991.3" cy="574.3" r="2.70"/><circle cx="960.3" cy="576.9" r="2.70"/><circle cx="989.8" cy="569.3" r="2.70"/><circle cx="989.7" cy="569.0" r="2.70"/><circle cx="969.0" cy="562.1" r="2.70"/><circle cx="969.3" cy="560.8" r="2.70"/><circle cx="973.4" cy="575.0" r="2.70"/><circle cx="987.8" cy="576.9" r="2.70"/><circle cx="988.5" cy="565.3" r="2.70"/><circle cx="982.2" cy="568.7" r="2.70"/><circle cx="991.5" cy="570.5" r="2.70"/><circle cx="970.6" cy="572.8" r="2.70"/><circle cx="998.6" cy="564.3" r="2.70"/><circle cx="995.2" cy="560.3" r="2.70"/><circle cx="970.4" cy="564.7" r="2.70"/><circle cx="989.8" cy="578.9" r="2.70"/><circle cx="989.8" cy="566.5" r="2.70"/><circle cx="995.2" cy="566.6" r="2.70"/><circle cx="969.6" cy="578.2" r="2.70"/><circle cx="985.2" cy="573.9" r="2.70"/><circle cx="1026.6" cy="579.6" r="2.70"/><circle cx="1018.8" cy="576.8" r="2.70"/><circle cx="1027.9" cy="577.2" r="2.70"/><circle cx="1017.5" cy="574.5" r="2.70"/><circle cx="1022.8" cy="566.2" r="2.70"/><circle cx="1008.5" cy="572.5" r="2.70"/><circle cx="1003.1" cy="578.2" r="2.70"/><circle cx="1005.8" cy="560.5" r="2.70"/><circle cx="1004.3" cy="578.6" r="2.70"/><circle cx="1013.8" cy="562.8" r="2.70"/><circle cx="1001.1" cy="560.8" r="2.70"/><circle cx="1027.7" cy="572.7" r="2.70"/><circle cx="1027.9" cy="574.7" r="2.70"/><circle cx="753.9" cy="596.2" r="2.70"/><circle cx="745.4" cy="596.5" r="2.70"/><circle cx="745.3" cy="585.7" r="2.70"/><circle cx="750.3" cy="584.1" r="2.70"/><circle cx="758.6" cy="590.1" r="2.70"/><circle cx="754.1" cy="592.4" r="2.70"/><circle cx="741.5" cy="584.3" r="2.70"/><circle cx="754.5" cy="581.8" r="2.70"/><circle cx="752.8" cy="583.4" r="2.70"/><circle cx="750.5" cy="599.6" r="2.70"/><circle cx="739.7" cy="595.9" r="2.70"/><circle cx="748.0" cy="590.0" r="2.70"/><circle cx="747.9" cy="595.7" r="2.70"/><circle cx="745.1" cy="587.1" r="2.70"/><circle cx="736.1" cy="587.9" r="2.70"/><circle cx="755.6" cy="581.7" r="2.70"/><circle cx="755.5" cy="580.5" r="2.70"/><circle cx="756.0" cy="590.0" r="2.70"/><circle cx="741.3" cy="595.1" r="2.70"/><circle cx="750.1" cy="592.9" r="2.70"/><circle cx="746.5" cy="594.8" r="2.70"/><circle cx="790.9" cy="591.6" r="2.70"/><circle cx="765.0" cy="589.2" r="2.70"/><circle cx="795.4" cy="584.8" r="2.70"/><circle cx="767.7" cy="586.0" r="2.70"/><circle cx="788.1" cy="596.9" r="2.70"/><circle cx="766.2" cy="583.1" r="2.70"/><circle cx="769.9" cy="586.5" r="2.70"/><circle cx="780.9" cy="583.2" r="2.70"/><circle cx="773.1" cy="583.8" r="2.70"/><circle cx="799.0" cy="594.6" r="2.70"/><circle cx="764.1" cy="599.2" r="2.70"/><circle cx="764.1" cy="587.7" r="2.70"/><circle cx="799.4" cy="595.9" r="2.70"/><circle cx="789.3" cy="588.7" r="2.70"/><circle cx="767.8" cy="592.8" r="2.70"/><circle cx="764.3" cy="584.1" r="2.70"/><circle cx="775.5" cy="580.7" r="2.70"/><circle cx="776.0" cy="595.8" r="2.70"/><circle cx="787.7" cy="590.0" r="2.70"/><circle cx="785.3" cy="589.3" r="2.70"/><circle cx="765.7" cy="592.1" r="2.70"/><circle cx="776.2" cy="594.8" r="2.70"/><circle cx="796.3" cy="588.6" r="2.70"/><circle cx="783.0" cy="595.0" r="2.70"/><circle cx="776.8" cy="584.6" r="2.70"/><circle cx="788.9" cy="597.6" r="2.70"/><circle cx="791.0" cy="594.0" r="2.70"/><circle cx="794.1" cy="593.6" r="2.70"/><circle cx="785.7" cy="589.1" r="2.70"/><circle cx="772.5" cy="592.6" r="2.70"/><circle cx="763.9" cy="588.4" r="2.70"/><circle cx="791.3" cy="594.3" r="2.70"/><circle cx="785.2" cy="585.0" r="2.70"/><circle cx="776.9" cy="589.1" r="2.70"/><circle cx="784.9" cy="588.2" r="2.70"/><circle cx="787.0" cy="598.6" r="2.70"/><circle cx="767.3" cy="593.1" r="2.70"/><circle cx="791.1" cy="587.8" r="2.70"/><circle cx="779.6" cy="599.5" r="2.70"/><circle cx="761.5" cy="590.9" r="2.70"/><circle cx="766.4" cy="595.6" r="2.70"/><circle cx="797.6" cy="590.4" r="2.70"/><circle cx="764.0" cy="591.5" r="2.70"/><circle cx="781.6" cy="594.3" r="2.70"/><circle cx="780.5" cy="592.8" r="2.70"/><circle cx="793.2" cy="590.4" r="2.70"/><circle cx="776.4" cy="599.0" r="2.70"/><circle cx="768.4" cy="593.7" r="2.70"/><circle cx="775.7" cy="595.3" r="2.70"/><circle cx="764.9" cy="599.7" r="2.70"/><circle cx="774.2" cy="581.1" r="2.70"/><circle cx="811.0" cy="588.0" r="2.70"/><circle cx="800.5" cy="588.4" r="2.70"/><circle cx="816.8" cy="594.0" r="2.70"/><circle cx="814.1" cy="585.3" r="2.70"/><circle cx="809.0" cy="594.8" r="2.70"/><circle cx="837.6" cy="590.5" r="2.70"/><circle cx="808.8" cy="596.0" r="2.70"/><circle cx="815.7" cy="584.2" r="2.70"/><circle cx="805.2" cy="595.5" r="2.70"/><circle cx="832.4" cy="592.7" r="2.70"/><circle cx="818.8" cy="591.2" r="2.70"/><circle cx="809.0" cy="599.3" r="2.70"/><circle cx="814.1" cy="592.8" r="2.70"/><circle cx="832.7" cy="596.3" r="2.70"/><circle cx="818.7" cy="585.9" r="2.70"/><circle cx="821.9" cy="582.5" r="2.70"/><circle cx="833.3" cy="587.1" r="2.70"/><circle cx="834.0" cy="585.3" r="2.70"/><circle cx="815.0" cy="585.1" r="2.70"/><circle cx="817.0" cy="583.7" r="2.70"/><circle cx="800.1" cy="594.4" r="2.70"/><circle cx="811.2" cy="584.9" r="2.70"/><circle cx="812.1" cy="589.6" r="2.70"/><circle cx="817.1" cy="592.7" r="2.70"/><circle cx="826.4" cy="587.2" r="2.70"/><circle cx="837.1" cy="597.1" r="2.70"/><circle cx="802.3" cy="596.6" r="2.70"/><circle cx="836.2" cy="595.7" r="2.70"/><circle cx="805.6" cy="596.6" r="2.70"/><circle cx="825.3" cy="580.3" r="2.70"/><circle cx="800.5" cy="599.0" r="2.70"/><circle cx="826.2" cy="585.0" r="2.70"/><circle cx="804.1" cy="582.9" r="2.70"/><circle cx="809.3" cy="595.5" r="2.70"/><circle cx="813.9" cy="583.1" r="2.70"/><circle cx="836.2" cy="595.8" r="2.70"/><circle cx="806.7" cy="597.8" r="2.70"/><circle cx="824.3" cy="595.6" r="2.70"/><circle cx="826.7" cy="597.9" r="2.70"/><circle cx="831.5" cy="596.8" r="2.70"/><circle cx="807.9" cy="593.9" r="2.70"/><circle cx="821.2" cy="594.8" r="2.70"/><circle cx="857.5" cy="597.7" r="2.70"/><circle cx="862.2" cy="585.3" r="2.70"/><circle cx="849.4" cy="582.8" r="2.70"/><circle cx="859.7" cy="581.2" r="2.70"/><circle cx="858.7" cy="582.9" r="2.70"/><circle cx="859.7" cy="590.0" r="2.70"/><circle cx="861.6" cy="597.3" r="2.70"/><circle cx="840.3" cy="596.8" r="2.70"/><circle cx="858.7" cy="591.3" r="2.70"/><circle cx="866.6" cy="596.8" r="2.70"/><circle cx="855.0" cy="588.4" r="2.70"/><circle cx="878.4" cy="581.5" r="2.70"/><circle cx="865.5" cy="592.7" r="2.70"/><circle cx="841.1" cy="592.2" r="2.70"/><circle cx="867.3" cy="598.6" r="2.70"/><circle cx="853.2" cy="599.6" r="2.70"/><circle cx="860.4" cy="589.7" r="2.70"/><circle cx="875.9" cy="580.7" r="2.70"/><circle cx="868.7" cy="592.5" r="2.70"/><circle cx="853.5" cy="597.2" r="2.70"/><circle cx="854.6" cy="589.5" r="2.70"/><circle cx="861.0" cy="595.4" r="2.70"/><circle cx="848.4" cy="588.7" r="2.70"/><circle cx="856.9" cy="591.1" r="2.70"/><circle cx="873.1" cy="585.9" r="2.70"/><circle cx="873.1" cy="588.1" r="2.70"/><circle cx="860.1" cy="585.4" r="2.70"/><circle cx="860.3" cy="599.5" r="2.70"/><circle cx="866.2" cy="595.8" r="2.70"/><circle cx="853.2" cy="586.3" r="2.70"/><circle cx="852.0" cy="591.7" r="2.70"/><circle cx="865.4" cy="595.7" r="2.70"/><circle cx="841.6" cy="594.5" r="2.70"/><circle cx="875.4" cy="590.9" r="2.70"/><circle cx="842.0" cy="586.0" r="2.70"/><circle cx="840.2" cy="583.8" r="2.70"/><circle cx="876.9" cy="592.2" r="2.70"/><circle cx="866.3" cy="595.8" r="2.70"/><circle cx="916.4" cy="592.2" r="2.70"/><circle cx="904.7" cy="592.5" r="2.70"/><circle cx="907.9" cy="591.9" r="2.70"/><circle cx="907.2" cy="584.3" r="2.70"/><circle cx="906.7" cy="589.2" r="2.70"/><circle cx="910.5" cy="582.0" r="2.70"/><circle cx="887.3" cy="580.7" r="2.70"/><circle cx="911.0" cy="598.3" r="2.70"/><circle cx="906.2" cy="587.4" r="2.70"/><circle cx="912.9" cy="595.7" r="2.70"/><circle cx="902.5" cy="585.2" r="2.70"/><circle cx="892.1" cy="588.4" r="2.70"/><circle cx="892.7" cy="588.6" r="2.70"/><circle cx="905.7" cy="598.7" r="2.70"/><circle cx="882.2" cy="591.4" r="2.70"/><circle cx="881.6" cy="582.4" r="2.70"/><circle cx="912.4" cy="591.5" r="2.70"/><circle cx="916.7" cy="588.9" r="2.70"/><circle cx="880.6" cy="587.7" r="2.70"/><circle cx="903.7" cy="598.8" r="2.70"/><circle cx="919.2" cy="589.5" r="2.70"/><circle cx="896.5" cy="582.0" r="2.70"/><circle cx="905.8" cy="584.2" r="2.70"/><circle cx="886.1" cy="580.3" r="2.70"/><circle cx="880.2" cy="593.7" r="2.70"/><circle cx="884.9" cy="599.3" r="2.70"/><circle cx="883.5" cy="597.4" r="2.70"/><circle cx="885.2" cy="580.4" r="2.70"/><circle cx="908.8" cy="584.8" r="2.70"/><circle cx="909.3" cy="583.7" r="2.70"/><circle cx="882.0" cy="595.5" r="2.70"/><circle cx="908.5" cy="597.1" r="2.70"/><circle cx="909.2" cy="581.7" r="2.70"/><circle cx="905.1" cy="594.2" r="2.70"/><circle cx="898.4" cy="598.6" r="2.70"/><circle cx="890.2" cy="599.3" r="2.70"/><circle cx="948.7" cy="580.2" r="2.70"/><circle cx="920.6" cy="593.0" r="2.70"/><circle cx="952.7" cy="581.6" r="2.70"/><circle cx="932.4" cy="594.6" r="2.70"/><circle cx="926.6" cy="597.2" r="2.70"/><circle cx="939.5" cy="581.2" r="2.70"/><circle cx="934.7" cy="591.5" r="2.70"/><circle cx="937.5" cy="593.5" r="2.70"/><circle cx="925.8" cy="595.9" r="2.70"/><circle cx="934.5" cy="592.9" r="2.70"/><circle cx="945.2" cy="588.4" r="2.70"/><circle cx="935.4" cy="595.7" r="2.70"/><circle cx="957.8" cy="595.7" r="2.70"/><circle cx="942.7" cy="585.8" r="2.70"/><circle cx="922.4" cy="599.5" r="2.70"/><circle cx="948.1" cy="596.5" r="2.70"/><circle cx="933.3" cy="592.1" r="2.70"/><circle cx="959.1" cy="596.6" r="2.70"/><circle cx="944.0" cy="586.2" r="2.70"/><circle cx="937.1" cy="597.8" r="2.70"/><circle cx="935.1" cy="593.7" r="2.70"/><circle cx="944.1" cy="597.9" r="2.70"/><circle cx="952.3" cy="585.7" r="2.70"/><circle cx="920.1" cy="585.3" r="2.70"/><circle cx="936.9" cy="591.7" r="2.70"/><circle cx="952.6" cy="597.7" r="2.70"/><circle cx="921.7" cy="596.7" r="2.70"/><circle cx="952.5" cy="597.3" r="2.70"/><circle cx="942.9" cy="585.5" r="2.70"/><circle cx="954.0" cy="596.1" r="2.70"/><circle cx="947.4" cy="598.3" r="2.70"/><circle cx="933.9" cy="581.7" r="2.70"/><circle cx="942.1" cy="595.9" r="2.70"/><circle cx="928.0" cy="595.0" r="2.70"/><circle cx="957.3" cy="584.7" r="2.70"/><circle cx="944.3" cy="593.6" r="2.70"/><circle cx="938.6" cy="584.1" r="2.70"/><circle cx="930.2" cy="595.0" r="2.70"/><circle cx="951.7" cy="589.2" r="2.70"/><circle cx="923.5" cy="596.1" r="2.70"/><circle cx="950.9" cy="584.7" r="2.70"/><circle cx="943.2" cy="597.9" r="2.70"/><circle cx="955.4" cy="590.4" r="2.70"/><circle cx="939.1" cy="591.8" r="2.70"/><circle cx="967.6" cy="583.8" r="2.70"/><circle cx="967.2" cy="594.0" r="2.70"/><circle cx="974.5" cy="591.3" r="2.70"/><circle cx="976.1" cy="590.3" r="2.70"/><circle cx="966.0" cy="580.9" r="2.70"/><circle cx="999.9" cy="587.5" r="2.70"/><circle cx="964.2" cy="592.7" r="2.70"/><circle cx="991.5" cy="583.1" r="2.70"/><circle cx="983.9" cy="586.9" r="2.70"/><circle cx="980.8" cy="580.4" r="2.70"/><circle cx="961.3" cy="599.8" r="2.70"/><circle cx="994.6" cy="589.7" r="2.70"/><circle cx="982.7" cy="585.2" r="2.70"/><circle cx="991.2" cy="588.5" r="2.70"/><circle cx="997.9" cy="595.3" r="2.70"/><circle cx="992.8" cy="599.3" r="2.70"/><circle cx="970.2" cy="580.8" r="2.70"/><circle cx="968.0" cy="583.6" r="2.70"/><circle cx="963.3" cy="581.0" r="2.70"/><circle cx="982.3" cy="597.4" r="2.70"/><circle cx="978.3" cy="598.9" r="2.70"/><circle cx="996.4" cy="581.3" r="2.70"/><circle cx="983.9" cy="587.9" r="2.70"/><circle cx="964.8" cy="599.2" r="2.70"/><circle cx="970.3" cy="591.3" r="2.70"/><circle cx="985.6" cy="599.1" r="2.70"/><circle cx="986.8" cy="587.9" r="2.70"/><circle cx="977.9" cy="583.2" r="2.70"/><circle cx="1038.6" cy="599.8" r="2.70"/><circle cx="1008.9" cy="580.8" r="2.70"/><circle cx="1010.2" cy="587.0" r="2.70"/><circle cx="1036.1" cy="598.1" r="2.70"/><circle cx="1033.5" cy="580.9" r="2.70"/><circle cx="1031.5" cy="594.2" r="2.70"/><circle cx="1025.9" cy="599.7" r="2.70"/><circle cx="1002.2" cy="582.9" r="2.70"/><circle cx="1030.2" cy="598.8" r="2.70"/><circle cx="754.7" cy="617.8" r="2.70"/><circle cx="753.7" cy="612.6" r="2.70"/><circle cx="752.9" cy="609.6" r="2.70"/><circle cx="745.1" cy="602.9" r="2.70"/><circle cx="748.5" cy="611.1" r="2.70"/><circle cx="753.6" cy="606.7" r="2.70"/><circle cx="746.7" cy="604.2" r="2.70"/><circle cx="759.9" cy="618.5" r="2.70"/><circle cx="755.8" cy="601.1" r="2.70"/><circle cx="749.1" cy="605.9" r="2.70"/><circle cx="759.1" cy="600.3" r="2.70"/><circle cx="752.3" cy="606.8" r="2.70"/><circle cx="753.3" cy="610.5" r="2.70"/><circle cx="756.5" cy="604.4" r="2.70"/><circle cx="742.9" cy="602.8" r="2.70"/><circle cx="748.5" cy="603.9" r="2.70"/><circle cx="744.3" cy="609.9" r="2.70"/><circle cx="744.5" cy="614.2" r="2.70"/><circle cx="752.5" cy="611.7" r="2.70"/><circle cx="749.3" cy="608.2" r="2.70"/><circle cx="788.9" cy="601.1" r="2.70"/><circle cx="792.4" cy="606.7" r="2.70"/><circle cx="793.7" cy="617.3" r="2.70"/><circle cx="779.7" cy="600.3" r="2.70"/><circle cx="796.4" cy="609.5" r="2.70"/><circle cx="794.9" cy="605.3" r="2.70"/><circle cx="767.4" cy="616.6" r="2.70"/><circle cx="774.7" cy="603.3" r="2.70"/><circle cx="774.8" cy="611.9" r="2.70"/><circle cx="760.2" cy="610.4" r="2.70"/><circle cx="777.8" cy="610.3" r="2.70"/><circle cx="764.8" cy="614.3" r="2.70"/><circle cx="792.7" cy="617.3" r="2.70"/><circle cx="772.8" cy="614.2" r="2.70"/><circle cx="775.3" cy="615.0" r="2.70"/><circle cx="762.4" cy="617.5" r="2.70"/><circle cx="798.2" cy="609.9" r="2.70"/><circle cx="780.5" cy="610.6" r="2.70"/><circle cx="781.5" cy="600.4" r="2.70"/><circle cx="798.7" cy="604.5" r="2.70"/><circle cx="767.3" cy="602.1" r="2.70"/><circle cx="770.0" cy="616.3" r="2.70"/><circle cx="761.2" cy="601.9" r="2.70"/><circle cx="788.0" cy="603.9" r="2.70"/><circle cx="760.7" cy="612.0" r="2.70"/><circle cx="783.1" cy="610.5" r="2.70"/><circle cx="788.1" cy="602.1" r="2.70"/><circle cx="794.8" cy="614.3" r="2.70"/><circle cx="761.8" cy="602.5" r="2.70"/><circle cx="779.7" cy="610.0" r="2.70"/><circle cx="771.2" cy="602.4" r="2.70"/><circle cx="776.2" cy="602.7" r="2.70"/><circle cx="783.7" cy="617.2" r="2.70"/><circle cx="765.9" cy="611.5" r="2.70"/><circle cx="789.9" cy="603.3" r="2.70"/><circle cx="793.0" cy="618.8" r="2.70"/><circle cx="775.5" cy="608.4" r="2.70"/><circle cx="793.6" cy="610.5" r="2.70"/><circle cx="775.8" cy="618.8" r="2.70"/><circle cx="791.1" cy="606.8" r="2.70"/><circle cx="769.6" cy="606.7" r="2.70"/><circle cx="777.4" cy="619.6" r="2.70"/><circle cx="792.2" cy="618.3" r="2.70"/><circle cx="832.6" cy="617.0" r="2.70"/><circle cx="802.1" cy="610.3" r="2.70"/><circle cx="838.3" cy="618.7" r="2.70"/><circle cx="810.0" cy="608.4" r="2.70"/><circle cx="825.3" cy="607.3" r="2.70"/><circle cx="821.2" cy="601.4" r="2.70"/><circle cx="817.3" cy="610.1" r="2.70"/><circle cx="800.8" cy="602.8" r="2.70"/><circle cx="838.8" cy="615.5" r="2.70"/><circle cx="837.5" cy="612.7" r="2.70"/><circle cx="832.4" cy="617.7" r="2.70"/><circle cx="835.4" cy="600.7" r="2.70"/><circle cx="825.7" cy="605.3" r="2.70"/><circle cx="827.1" cy="605.5" r="2.70"/><circle cx="821.7" cy="618.5" r="2.70"/><circle cx="824.9" cy="605.0" r="2.70"/><circle cx="820.8" cy="608.7" r="2.70"/><circle cx="838.0" cy="605.8" r="2.70"/><circle cx="812.2" cy="613.0" r="2.70"/><circle cx="804.8" cy="611.9" r="2.70"/><circle cx="838.2" cy="610.3" r="2.70"/><circle cx="810.7" cy="609.3" r="2.70"/><circle cx="821.4" cy="603.0" r="2.70"/><circle cx="805.0" cy="602.6" r="2.70"/><circle cx="811.7" cy="608.1" r="2.70"/><circle cx="811.5" cy="604.9" r="2.70"/><circle cx="803.5" cy="610.9" r="2.70"/><circle cx="833.6" cy="612.2" r="2.70"/><circle cx="822.8" cy="613.0" r="2.70"/><circle cx="808.0" cy="614.2" r="2.70"/><circle cx="818.4" cy="611.0" r="2.70"/><circle cx="824.5" cy="609.4" r="2.70"/><circle cx="812.4" cy="604.8" r="2.70"/><circle cx="808.9" cy="610.2" r="2.70"/><circle cx="815.3" cy="611.7" r="2.70"/><circle cx="800.5" cy="607.1" r="2.70"/><circle cx="834.5" cy="604.8" r="2.70"/><circle cx="822.3" cy="609.8" r="2.70"/><circle cx="811.4" cy="619.8" r="2.70"/><circle cx="811.8" cy="615.4" r="2.70"/><circle cx="806.3" cy="601.3" r="2.70"/><circle cx="874.9" cy="608.8" r="2.70"/><circle cx="842.5" cy="607.8" r="2.70"/><circle cx="857.6" cy="614.7" r="2.70"/><circle cx="844.4" cy="604.5" r="2.70"/><circle cx="878.4" cy="614.8" r="2.70"/><circle cx="846.2" cy="606.7" r="2.70"/><circle cx="854.1" cy="613.5" r="2.70"/><circle cx="864.7" cy="617.0" r="2.70"/><circle cx="872.8" cy="610.4" r="2.70"/><circle cx="869.6" cy="614.9" r="2.70"/><circle cx="870.4" cy="609.5" r="2.70"/><circle cx="871.4" cy="614.2" r="2.70"/><circle cx="876.6" cy="602.5" r="2.70"/><circle cx="874.8" cy="600.1" r="2.70"/><circle cx="870.6" cy="611.7" r="2.70"/><circle cx="859.9" cy="619.3" r="2.70"/><circle cx="862.9" cy="608.4" r="2.70"/><circle cx="871.3" cy="617.5" r="2.70"/><circle cx="864.3" cy="607.6" r="2.70"/><circle cx="858.1" cy="609.2" r="2.70"/><circle cx="868.9" cy="605.9" r="2.70"/><circle cx="855.6" cy="611.1" r="2.70"/><circle cx="855.4" cy="606.4" r="2.70"/><circle cx="871.5" cy="617.0" r="2.70"/><circle cx="860.0" cy="608.9" r="2.70"/><circle cx="847.4" cy="606.1" r="2.70"/><circle cx="845.8" cy="611.5" r="2.70"/><circle cx="863.3" cy="601.8" r="2.70"/><circle cx="876.8" cy="606.5" r="2.70"/><circle cx="873.7" cy="616.8" r="2.70"/><circle cx="878.4" cy="604.1" r="2.70"/><circle cx="857.1" cy="618.2" r="2.70"/><circle cx="840.4" cy="600.9" r="2.70"/><circle cx="862.6" cy="609.9" r="2.70"/><circle cx="876.8" cy="615.5" r="2.70"/><circle cx="861.5" cy="620.0" r="2.70"/><circle cx="860.7" cy="610.3" r="2.70"/><circle cx="867.4" cy="607.8" r="2.70"/><circle cx="854.3" cy="611.9" r="2.70"/><circle cx="854.0" cy="619.0" r="2.70"/><circle cx="867.1" cy="610.5" r="2.70"/><circle cx="844.0" cy="607.5" r="2.70"/><circle cx="856.0" cy="611.2" r="2.70"/><circle cx="863.0" cy="617.6" r="2.70"/><circle cx="918.6" cy="609.7" r="2.70"/><circle cx="897.6" cy="612.5" r="2.70"/><circle cx="919.8" cy="606.9" r="2.70"/><circle cx="901.2" cy="616.3" r="2.70"/><circle cx="886.8" cy="606.4" r="2.70"/><circle cx="919.1" cy="616.5" r="2.70"/><circle cx="900.5" cy="602.2" r="2.70"/><circle cx="915.8" cy="613.8" r="2.70"/><circle cx="912.8" cy="619.8" r="2.70"/><circle cx="915.5" cy="608.4" r="2.70"/><circle cx="886.3" cy="605.8" r="2.70"/><circle cx="900.5" cy="610.1" r="2.70"/><circle cx="887.5" cy="603.6" r="2.70"/><circle cx="905.2" cy="612.1" r="2.70"/><circle cx="894.1" cy="619.9" r="2.70"/><circle cx="905.5" cy="600.8" r="2.70"/><circle cx="896.5" cy="615.8" r="2.70"/><circle cx="892.3" cy="613.8" r="2.70"/><circle cx="880.2" cy="606.1" r="2.70"/><circle cx="913.7" cy="611.7" r="2.70"/><circle cx="906.7" cy="603.9" r="2.70"/><circle cx="899.9" cy="611.1" r="2.70"/><circle cx="890.6" cy="612.9" r="2.70"/><circle cx="901.3" cy="619.9" r="2.70"/><circle cx="903.0" cy="608.2" r="2.70"/><circle cx="884.9" cy="603.1" r="2.70"/><circle cx="910.4" cy="602.1" r="2.70"/><circle cx="884.0" cy="603.4" r="2.70"/><circle cx="900.9" cy="616.5" r="2.70"/><circle cx="904.5" cy="616.1" r="2.70"/><circle cx="882.5" cy="600.2" r="2.70"/><circle cx="910.8" cy="606.5" r="2.70"/><circle cx="908.6" cy="607.1" r="2.70"/><circle cx="886.8" cy="605.3" r="2.70"/><circle cx="884.0" cy="618.1" r="2.70"/><circle cx="903.3" cy="607.0" r="2.70"/><circle cx="898.0" cy="607.7" r="2.70"/><circle cx="882.2" cy="617.8" r="2.70"/><circle cx="903.3" cy="619.2" r="2.70"/><circle cx="897.6" cy="612.4" r="2.70"/><circle cx="890.0" cy="600.9" r="2.70"/><circle cx="957.2" cy="617.1" r="2.70"/><circle cx="932.6" cy="618.0" r="2.70"/><circle cx="952.6" cy="606.1" r="2.70"/><circle cx="944.1" cy="619.2" r="2.70"/><circle cx="939.8" cy="619.0" r="2.70"/><circle cx="929.7" cy="607.8" r="2.70"/><circle cx="948.7" cy="604.4" r="2.70"/><circle cx="932.4" cy="617.5" r="2.70"/><circle cx="939.4" cy="615.9" r="2.70"/><circle cx="929.7" cy="603.5" r="2.70"/><circle cx="934.3" cy="603.7" r="2.70"/><circle cx="958.9" cy="605.8" r="2.70"/><circle cx="942.5" cy="602.3" r="2.70"/><circle cx="941.4" cy="607.7" r="2.70"/><circle cx="936.1" cy="601.3" r="2.70"/><circle cx="924.9" cy="616.5" r="2.70"/><circle cx="934.0" cy="604.9" r="2.70"/><circle cx="927.6" cy="605.7" r="2.70"/><circle cx="929.5" cy="600.7" r="2.70"/><circle cx="946.6" cy="606.8" r="2.70"/><circle cx="926.2" cy="614.1" r="2.70"/><circle cx="923.7" cy="605.4" r="2.70"/><circle cx="953.4" cy="602.6" r="2.70"/><circle cx="937.7" cy="616.7" r="2.70"/><circle cx="952.2" cy="603.2" r="2.70"/><circle cx="934.1" cy="614.4" r="2.70"/><circle cx="935.1" cy="619.2" r="2.70"/><circle cx="928.3" cy="619.0" r="2.70"/><circle cx="940.2" cy="604.5" r="2.70"/><circle cx="938.1" cy="602.6" r="2.70"/><circle cx="948.3" cy="605.2" r="2.70"/><circle cx="956.0" cy="611.8" r="2.70"/><circle cx="934.7" cy="604.9" r="2.70"/><circle cx="944.3" cy="604.3" r="2.70"/><circle cx="954.9" cy="602.5" r="2.70"/><circle cx="940.5" cy="610.9" r="2.70"/><circle cx="930.8" cy="615.4" r="2.70"/><circle cx="935.4" cy="613.2" r="2.70"/><circle cx="942.7" cy="606.2" r="2.70"/><circle cx="935.6" cy="601.7" r="2.70"/><circle cx="927.1" cy="617.0" r="2.70"/><circle cx="972.8" cy="613.3" r="2.70"/><circle cx="964.4" cy="611.2" r="2.70"/><circle cx="974.5" cy="610.0" r="2.70"/><circle cx="971.9" cy="601.3" r="2.70"/><circle cx="972.5" cy="604.5" r="2.70"/><circle cx="965.0" cy="614.3" r="2.70"/><circle cx="971.3" cy="608.1" r="2.70"/><circle cx="996.4" cy="615.5" r="2.70"/><circle cx="995.3" cy="617.2" r="2.70"/><circle cx="965.3" cy="605.5" r="2.70"/><circle cx="961.2" cy="613.6" r="2.70"/><circle cx="986.5" cy="607.0" r="2.70"/><circle cx="976.5" cy="613.2" r="2.70"/><circle cx="988.0" cy="605.0" r="2.70"/><circle cx="993.9" cy="607.0" r="2.70"/><circle cx="985.2" cy="603.6" r="2.70"/><circle cx="964.6" cy="618.3" r="2.70"/><circle cx="989.4" cy="614.3" r="2.70"/><circle cx="961.6" cy="600.8" r="2.70"/><circle cx="966.5" cy="604.0" r="2.70"/><circle cx="972.1" cy="607.6" r="2.70"/><circle cx="961.6" cy="606.2" r="2.70"/><circle cx="985.5" cy="603.6" r="2.70"/><circle cx="993.6" cy="611.4" r="2.70"/><circle cx="988.7" cy="605.1" r="2.70"/><circle cx="977.4" cy="613.7" r="2.70"/><circle cx="974.0" cy="600.0" r="2.70"/><circle cx="993.4" cy="615.5" r="2.70"/><circle cx="971.5" cy="600.9" r="2.70"/><circle cx="994.2" cy="612.1" r="2.70"/><circle cx="961.9" cy="604.9" r="2.70"/><circle cx="964.4" cy="615.8" r="2.70"/><circle cx="968.4" cy="618.3" r="2.70"/><circle cx="1030.0" cy="601.7" r="2.70"/><circle cx="1027.8" cy="607.9" r="2.70"/><circle cx="1029.9" cy="616.6" r="2.70"/><circle cx="1011.2" cy="601.8" r="2.70"/><circle cx="1037.9" cy="608.5" r="2.70"/><circle cx="1009.9" cy="622.3" r="2.70"/><circle cx="954.7" cy="622.9" r="2.70"/><circle cx="922.9" cy="621.4" r="2.70"/><circle cx="757.6" cy="622.4" r="2.70"/><circle cx="865.4" cy="621.6" r="2.70"/><circle cx="1009.3" cy="620.0" r="2.70"/><circle cx="961.4" cy="619.7" r="2.70"/><circle cx="944.4" cy="622.8" r="2.70"/><circle cx="817.2" cy="621.7" r="2.70"/><circle cx="1021.2" cy="622.1" r="2.70"/><circle cx="898.7" cy="620.5" r="2.70"/><circle cx="759.1" cy="621.0" r="2.70"/><circle cx="860.6" cy="620.3" r="2.70"/><circle cx="831.4" cy="620.1" r="2.70"/><circle cx="945.6" cy="622.2" r="2.70"/><circle cx="810.5" cy="620.5" r="2.70"/><circle cx="890.4" cy="621.3" r="2.70"/><circle cx="1011.5" cy="620.9" r="2.70"/><circle cx="828.2" cy="623.1" r="2.70"/><circle cx="782.9" cy="621.8" r="2.70"/><circle cx="838.1" cy="622.8" r="2.70"/><circle cx="899.9" cy="622.6" r="2.70"/><circle cx="790.7" cy="622.2" r="2.70"/><circle cx="914.4" cy="621.4" r="2.70"/><circle cx="962.7" cy="622.9" r="2.70"/><circle cx="775.0" cy="620.7" r="2.70"/><circle cx="845.8" cy="620.3" r="2.70"/><circle cx="759.4" cy="620.7" r="2.70"/><circle cx="798.8" cy="622.4" r="2.70"/><circle cx="871.0" cy="620.0" r="2.70"/><circle cx="835.4" cy="621.4" r="2.70"/><circle cx="846.5" cy="620.2" r="2.70"/><circle cx="762.7" cy="619.5" r="2.70"/><circle cx="1027.7" cy="622.6" r="2.70"/><circle cx="766.2" cy="622.4" r="2.70"/><circle cx="1024.3" cy="621.8" r="2.70"/><circle cx="773.3" cy="621.5" r="2.70"/><circle cx="867.1" cy="620.3" r="2.70"/><circle cx="898.4" cy="619.5" r="2.70"/><circle cx="1006.8" cy="622.1" r="2.70"/><circle cx="922.8" cy="623.3" r="2.70"/><circle cx="929.9" cy="620.5" r="2.70"/><circle cx="812.8" cy="620.1" r="2.70"/><circle cx="750.0" cy="622.7" r="2.70"/><circle cx="983.8" cy="620.7" r="2.70"/><circle cx="795.5" cy="622.1" r="2.70"/><circle cx="985.6" cy="623.3" r="2.70"/><circle cx="790.5" cy="622.7" r="2.70"/><circle cx="981.2" cy="622.5" r="2.70"/><circle cx="836.1" cy="620.3" r="2.70"/><circle cx="979.7" cy="620.8" r="2.70"/><circle cx="848.1" cy="621.8" r="2.70"/><circle cx="848.4" cy="622.9" r="2.70"/><circle cx="810.9" cy="619.7" r="2.70"/><circle cx="905.3" cy="622.1" r="2.70"/><circle cx="978.1" cy="622.4" r="2.70"/><circle cx="1002.7" cy="623.4" r="2.70"/><circle cx="884.4" cy="621.5" r="2.70"/><circle cx="787.4" cy="620.7" r="2.70"/><circle cx="909.4" cy="619.8" r="2.70"/><circle cx="940.1" cy="620.2" r="2.70"/><circle cx="869.6" cy="623.5" r="2.70"/><circle cx="767.8" cy="619.7" r="2.70"/><circle cx="868.6" cy="620.3" r="2.70"/><circle cx="950.2" cy="619.5" r="2.70"/><circle cx="984.2" cy="623.0" r="2.70"/><circle cx="968.6" cy="621.2" r="2.70"/><circle cx="823.6" cy="622.2" r="2.70"/><circle cx="890.2" cy="621.2" r="2.70"/><circle cx="839.5" cy="621.3" r="2.70"/><circle cx="933.8" cy="622.9" r="2.70"/><circle cx="1002.4" cy="620.2" r="2.70"/><circle cx="827.2" cy="621.3" r="2.70"/><circle cx="904.3" cy="620.9" r="2.70"/><circle cx="798.3" cy="619.8" r="2.70"/><circle cx="835.2" cy="621.4" r="2.70"/><circle cx="1021.7" cy="623.2" r="2.70"/><circle cx="991.2" cy="623.5" r="2.70"/><circle cx="1019.0" cy="622.0" r="2.70"/><circle cx="975.6" cy="619.7" r="2.70"/><circle cx="936.8" cy="622.0" r="2.70"/><circle cx="827.5" cy="621.8" r="2.70"/><circle cx="1016.4" cy="621.5" r="2.70"/><circle cx="928.4" cy="620.7" r="2.70"/><circle cx="840.9" cy="623.1" r="2.70"/><circle cx="750.0" cy="620.3" r="2.70"/><circle cx="937.5" cy="621.3" r="2.70"/><circle cx="766.5" cy="622.2" r="2.70"/><circle cx="849.1" cy="621.9" r="2.70"/><circle cx="861.9" cy="621.7" r="2.70"/><circle cx="904.7" cy="621.1" r="2.70"/><circle cx="774.9" cy="620.2" r="2.70"/><circle cx="998.3" cy="621.7" r="2.70"/><circle cx="774.3" cy="623.0" r="2.70"/><circle cx="815.0" cy="619.9" r="2.70"/><circle cx="894.9" cy="620.5" r="2.70"/><circle cx="882.9" cy="621.8" r="2.70"/><circle cx="807.2" cy="621.8" r="2.70"/><circle cx="774.5" cy="621.6" r="2.70"/><circle cx="911.5" cy="619.8" r="2.70"/><circle cx="859.5" cy="619.8" r="2.70"/><circle cx="868.6" cy="623.0" r="2.70"/><circle cx="900.6" cy="622.4" r="2.70"/><circle cx="960.0" cy="620.0" r="2.70"/><circle cx="1027.3" cy="622.5" r="2.70"/><circle cx="771.4" cy="622.9" r="2.70"/><circle cx="854.9" cy="620.2" r="2.70"/><circle cx="1018.5" cy="621.8" r="2.70"/><circle cx="965.2" cy="620.1" r="2.70"/><circle cx="965.5" cy="619.7" r="2.70"/><circle cx="810.2" cy="621.0" r="2.70"/><circle cx="746.4" cy="621.9" r="2.70"/><circle cx="803.4" cy="620.7" r="2.70"/><circle cx="945.7" cy="621.2" r="2.70"/><circle cx="997.9" cy="622.0" r="2.70"/><circle cx="993.2" cy="621.8" r="2.70"/><circle cx="1006.2" cy="623.1" r="2.70"/><circle cx="790.4" cy="622.6" r="2.70"/><circle cx="840.3" cy="622.6" r="2.70"/><circle cx="938.0" cy="622.9" r="2.70"/><circle cx="777.3" cy="621.0" r="2.70"/><circle cx="954.3" cy="623.4" r="2.70"/><circle cx="949.9" cy="619.7" r="2.70"/><circle cx="915.9" cy="619.9" r="2.70"/><circle cx="900.1" cy="622.8" r="2.70"/><circle cx="774.5" cy="623.3" r="2.70"/><circle cx="936.5" cy="620.5" r="2.70"/><circle cx="797.6" cy="621.3" r="2.70"/><circle cx="983.4" cy="621.9" r="2.70"/><circle cx="774.7" cy="619.6" r="2.70"/><circle cx="773.8" cy="622.8" r="2.70"/><circle cx="795.4" cy="621.8" r="2.70"/><circle cx="825.5" cy="622.3" r="2.70"/><circle cx="851.7" cy="620.1" r="2.70"/><circle cx="994.1" cy="621.7" r="2.70"/><circle cx="940.6" cy="622.8" r="2.70"/><circle cx="1015.2" cy="619.6" r="2.70"/><circle cx="840.6" cy="620.1" r="2.70"/><circle cx="886.5" cy="623.1" r="2.70"/><circle cx="972.5" cy="619.6" r="2.70"/><circle cx="794.5" cy="622.9" r="2.70"/><circle cx="937.7" cy="621.1" r="2.70"/><circle cx="879.0" cy="620.1" r="2.70"/><circle cx="985.4" cy="621.1" r="2.70"/><circle cx="993.4" cy="622.0" r="2.70"/><circle cx="763.9" cy="620.9" r="2.70"/><circle cx="804.3" cy="623.2" r="2.70"/><circle cx="911.7" cy="619.7" r="2.70"/><circle cx="790.9" cy="621.0" r="2.70"/><circle cx="876.7" cy="621.9" r="2.70"/></g><g fill="#0000f0" fill-opacity="0.8" stroke="#0000f0" stroke-opacity="0.88" stroke-width="1.1"><circle cx="642.0" cy="154.8" r="2.85"/><circle cx="647.3" cy="252.5" r="2.85"/><circle cx="638.9" cy="266.4" r="2.85"/><circle cx="643.8" cy="274.9" r="2.85"/><circle cx="644.6" cy="278.1" r="2.85"/><circle cx="636.6" cy="288.5" r="2.85"/><circle cx="620.1" cy="317.5" r="2.85"/><circle cx="658.7" cy="321.6" r="2.85"/><circle cx="683.5" cy="318.7" r="2.85"/><circle cx="596.8" cy="328.0" r="2.85"/><circle cx="646.3" cy="328.0" r="2.85"/><circle cx="648.7" cy="328.0" r="2.85"/><circle cx="668.8" cy="328.0" r="2.85"/><circle cx="636.7" cy="338.9" r="2.85"/><circle cx="645.2" cy="342.6" r="2.85"/><circle cx="641.5" cy="347.3" r="2.85"/><circle cx="670.6" cy="347.3" r="2.85"/><circle cx="662.4" cy="356.8" r="2.85"/><circle cx="651.5" cy="368.9" r="2.85"/><circle cx="649.9" cy="376.1" r="2.85"/><circle cx="631.3" cy="384.1" r="2.85"/><circle cx="639.8" cy="384.1" r="2.85"/><circle cx="643.8" cy="385.1" r="2.85"/><circle cx="672.2" cy="393.0" r="2.85"/><circle cx="620.5" cy="403.6" r="2.85"/><circle cx="653.6" cy="403.6" r="2.85"/><circle cx="680.1" cy="402.3" r="2.85"/><circle cx="688.2" cy="403.6" r="2.85"/><circle cx="681.7" cy="409.9" r="2.85"/><circle cx="650.2" cy="412.8" r="2.85"/><circle cx="645.2" cy="420.9" r="2.85"/><circle cx="698.4" cy="357.2" r="2.85"/><circle cx="708.6" cy="357.2" r="2.85"/><circle cx="813.8" cy="403.6" r="2.85"/><circle cx="717.4" cy="420.9" r="2.85"/><circle cx="1104.0" cy="328.0" r="2.85"/><circle cx="1077.5" cy="357.3" r="2.85"/><circle cx="875.9" cy="393.2" r="2.85"/><circle cx="1014.0" cy="402.1" r="2.85"/><circle cx="1097.5" cy="412.7" r="2.85"/><circle cx="1243.3" cy="331.5" r="2.85"/><circle cx="1158.4" cy="362.8" r="2.85"/><circle cx="1283.8" cy="402.0" r="2.85"/><circle cx="1146.7" cy="412.9" r="2.85"/><circle cx="623.2" cy="434.1" r="2.85"/><circle cx="673.2" cy="434.1" r="2.85"/><circle cx="695.2" cy="434.1" r="2.85"/><circle cx="686.4" cy="444.6" r="2.85"/><circle cx="693.8" cy="444.6" r="2.85"/><circle cx="673.6" cy="461.5" r="2.85"/><circle cx="691.1" cy="461.5" r="2.85"/><circle cx="658.3" cy="468.6" r="2.85"/><circle cx="676.0" cy="468.6" r="2.85"/><circle cx="674.5" cy="490.5" r="2.85"/><circle cx="685.5" cy="504.7" r="2.85"/><circle cx="695.2" cy="504.7" r="2.85"/><circle cx="695.2" cy="511.5" r="2.85"/><circle cx="693.2" cy="517.6" r="2.85"/><circle cx="691.1" cy="522.6" r="2.85"/><circle cx="715.3" cy="427.7" r="2.85"/><circle cx="704.8" cy="434.1" r="2.85"/><circle cx="710.9" cy="439.2" r="2.85"/><circle cx="717.4" cy="439.2" r="2.85"/><circle cx="697.6" cy="439.2" r="2.85"/><circle cx="702.8" cy="444.6" r="2.85"/><circle cx="707.5" cy="449.3" r="2.85"/><circle cx="745.3" cy="457.4" r="2.85"/><circle cx="716.9" cy="461.5" r="2.85"/><circle cx="736.5" cy="461.5" r="2.85"/><circle cx="716.9" cy="468.6" r="2.85"/><circle cx="711.5" cy="475.0" r="2.85"/><circle cx="755.5" cy="475.0" r="2.85"/><circle cx="758.2" cy="477.7" r="2.85"/><circle cx="706.8" cy="480.4" r="2.85"/><circle cx="714.9" cy="483.4" r="2.85"/><circle cx="820.3" cy="483.4" r="2.85"/><circle cx="764.2" cy="490.5" r="2.85"/><circle cx="733.6" cy="496.6" r="2.85"/><circle cx="741.5" cy="495.0" r="2.85"/><circle cx="766.9" cy="496.6" r="2.85"/><circle cx="798.3" cy="495.0" r="2.85"/><circle cx="781.8" cy="498.6" r="2.85"/><circle cx="785.2" cy="500.9" r="2.85"/><circle cx="701.7" cy="502.7" r="2.85"/><circle cx="749.4" cy="502.7" r="2.85"/><circle cx="757.5" cy="502.7" r="2.85"/><circle cx="833.8" cy="502.7" r="2.85"/><circle cx="718.0" cy="506.1" r="2.85"/><circle cx="766.3" cy="506.1" r="2.85"/><circle cx="766.9" cy="509.5" r="2.85"/><circle cx="771.7" cy="509.5" r="2.85"/><circle cx="718.3" cy="514.2" r="2.85"/><circle cx="708.2" cy="518.2" r="2.85"/><circle cx="750.1" cy="516.9" r="2.85"/><circle cx="752.8" cy="520.3" r="2.85"/><circle cx="791.3" cy="520.3" r="2.85"/><circle cx="713.6" cy="522.6" r="2.85"/><circle cx="725.1" cy="524.3" r="2.85"/><circle cx="760.2" cy="522.6" r="2.85"/><circle cx="827.1" cy="453.6" r="2.85"/><circle cx="1071.3" cy="434.1" r="2.85"/><circle cx="1003.4" cy="449.3" r="2.85"/><circle cx="1097.9" cy="475.0" r="2.85"/><circle cx="1032.8" cy="480.4" r="2.85"/><circle cx="1079.8" cy="488.1" r="2.85"/><circle cx="1092.9" cy="492.6" r="2.85"/><circle cx="1046.0" cy="500.7" r="2.85"/><circle cx="1049.6" cy="502.7" r="2.85"/><circle cx="1045.2" cy="504.7" r="2.85"/><circle cx="1064.9" cy="504.5" r="2.85"/><circle cx="1044.6" cy="509.9" r="2.85"/><circle cx="1076.7" cy="512.8" r="2.85"/><circle cx="1037.5" cy="515.8" r="2.85"/><circle cx="1099.2" cy="515.8" r="2.85"/><circle cx="1035.2" cy="523.6" r="2.85"/><circle cx="1133.8" cy="427.8" r="2.85"/><circle cx="1308.4" cy="449.3" r="2.85"/><circle cx="1216.1" cy="457.7" r="2.85"/><circle cx="1151.4" cy="465.4" r="2.85"/><circle cx="1200.9" cy="471.9" r="2.85"/><circle cx="1271.6" cy="502.6" r="2.85"/><circle cx="1287.4" cy="506.3" r="2.85"/><circle cx="1183.7" cy="509.5" r="2.85"/><circle cx="1214.4" cy="512.7" r="2.85"/><circle cx="1137.6" cy="522.4" r="2.85"/><circle cx="660.2" cy="529.1" r="2.85"/><circle cx="684.4" cy="533.2" r="2.85"/><circle cx="689.3" cy="533.2" r="2.85"/><circle cx="691.8" cy="540.5" r="2.85"/><circle cx="686.4" cy="544.6" r="2.85"/><circle cx="693.4" cy="544.6" r="2.85"/><circle cx="675.1" cy="550.4" r="2.85"/><circle cx="667.7" cy="554.4" r="2.85"/><circle cx="681.6" cy="559.7" r="2.85"/><circle cx="752.4" cy="529.1" r="2.85"/><circle cx="759.8" cy="528.3" r="2.85"/><circle cx="776.6" cy="530.2" r="2.85"/><circle cx="787.6" cy="528.6" r="2.85"/><circle cx="710.7" cy="530.2" r="2.85"/><circle cx="705.3" cy="534.8" r="2.85"/><circle cx="781.1" cy="536.4" r="2.85"/><circle cx="700.9" cy="543.3" r="2.85"/><circle cx="720.2" cy="541.4" r="2.85"/><circle cx="738.5" cy="537.8" r="2.85"/><circle cx="742.3" cy="543.3" r="2.85"/><circle cx="751.6" cy="544.3" r="2.85"/><circle cx="759.8" cy="540.5" r="2.85"/><circle cx="786.8" cy="540.5" r="2.85"/><circle cx="772.9" cy="544.6" r="2.85"/><circle cx="777.8" cy="543.3" r="2.85"/><circle cx="760.6" cy="548.7" r="2.85"/><circle cx="790.0" cy="547.9" r="2.85"/><circle cx="816.7" cy="547.9" r="2.85"/><circle cx="831.8" cy="550.4" r="2.85"/><circle cx="704.5" cy="554.9" r="2.85"/><circle cx="722.2" cy="554.4" r="2.85"/><circle cx="730.3" cy="553.6" r="2.85"/><circle cx="736.9" cy="555.3" r="2.85"/><circle cx="755.7" cy="552.8" r="2.85"/><circle cx="772.9" cy="554.4" r="2.85"/><circle cx="796.6" cy="553.6" r="2.85"/><circle cx="814.6" cy="554.4" r="2.85"/><circle cx="825.2" cy="555.3" r="2.85"/><circle cx="718.1" cy="560.2" r="2.85"/><circle cx="730.3" cy="560.2" r="2.85"/><circle cx="758.2" cy="558.5" r="2.85"/><circle cx="764.7" cy="560.2" r="2.85"/><circle cx="776.1" cy="558.5" r="2.85"/><circle cx="803.1" cy="561.0" r="2.85"/><circle cx="807.2" cy="556.9" r="2.85"/><circle cx="817.0" cy="557.7" r="2.85"/><circle cx="821.9" cy="559.3" r="2.85"/><circle cx="722.2" cy="563.4" r="2.85"/><circle cx="763.1" cy="564.3" r="2.85"/><circle cx="768.0" cy="563.4" r="2.85"/><circle cx="796.6" cy="564.3" r="2.85"/><circle cx="811.3" cy="562.6" r="2.85"/><circle cx="821.9" cy="564.3" r="2.85"/><circle cx="703.9" cy="569.2" r="2.85"/><circle cx="712.7" cy="567.5" r="2.85"/><circle cx="746.7" cy="566.7" r="2.85"/><circle cx="771.2" cy="568.3" r="2.85"/><circle cx="822.8" cy="568.3" r="2.85"/><circle cx="720.5" cy="571.6" r="2.85"/><circle cx="799.9" cy="571.9" r="2.85"/><circle cx="808.9" cy="572.4" r="2.85"/><circle cx="817.0" cy="574.1" r="2.85"/><circle cx="711.2" cy="574.1" r="2.85"/><circle cx="722.2" cy="577.0" r="2.85"/><circle cx="734.1" cy="575.7" r="2.85"/><circle cx="749.2" cy="574.1" r="2.85"/><circle cx="752.4" cy="576.5" r="2.85"/><circle cx="756.2" cy="573.7" r="2.85"/><circle cx="766.3" cy="575.7" r="2.85"/><circle cx="776.1" cy="573.2" r="2.85"/><circle cx="780.2" cy="575.7" r="2.85"/><circle cx="785.1" cy="575.7" r="2.85"/><circle cx="793.3" cy="575.4" r="2.85"/><circle cx="822.8" cy="577.0" r="2.85"/><circle cx="797.4" cy="581.4" r="2.85"/><circle cx="809.7" cy="581.1" r="2.85"/><circle cx="709.1" cy="586.3" r="2.85"/><circle cx="791.7" cy="586.3" r="2.85"/><circle cx="799.0" cy="583.9" r="2.85"/><circle cx="813.8" cy="587.2" r="2.85"/><circle cx="818.7" cy="586.8" r="2.85"/><circle cx="825.2" cy="588.0" r="2.85"/><circle cx="826.8" cy="589.6" r="2.85"/><circle cx="797.4" cy="593.7" r="2.85"/><circle cx="803.1" cy="589.6" r="2.85"/><circle cx="816.2" cy="595.3" r="2.85"/><circle cx="823.6" cy="592.1" r="2.85"/><circle cx="703.4" cy="594.2" r="2.85"/><circle cx="774.5" cy="595.0" r="2.85"/><circle cx="803.9" cy="597.0" r="2.85"/><circle cx="831.8" cy="594.5" r="2.85"/><circle cx="812.1" cy="597.8" r="2.85"/><circle cx="725.1" cy="597.0" r="2.85"/><circle cx="728.7" cy="599.9" r="2.85"/><circle cx="769.6" cy="600.6" r="2.85"/><circle cx="781.1" cy="601.1" r="2.85"/><circle cx="815.4" cy="600.6" r="2.85"/><circle cx="746.4" cy="604.3" r="2.85"/><circle cx="784.3" cy="605.1" r="2.85"/><circle cx="807.2" cy="608.1" r="2.85"/><circle cx="826.8" cy="605.1" r="2.85"/><circle cx="831.8" cy="606.8" r="2.85"/><circle cx="753.6" cy="609.2" r="2.85"/><circle cx="771.2" cy="610.9" r="2.85"/><circle cx="781.1" cy="610.1" r="2.85"/><circle cx="790.9" cy="610.1" r="2.85"/><circle cx="797.4" cy="612.5" r="2.85"/><circle cx="813.8" cy="610.9" r="2.85"/><circle cx="817.0" cy="609.2" r="2.85"/><circle cx="776.1" cy="614.1" r="2.85"/><circle cx="787.6" cy="613.3" r="2.85"/><circle cx="802.3" cy="615.0" r="2.85"/><circle cx="821.9" cy="614.1" r="2.85"/><circle cx="830.1" cy="614.1" r="2.85"/><circle cx="834.2" cy="610.1" r="2.85"/><circle cx="718.1" cy="619.5" r="2.85"/><circle cx="724.6" cy="617.9" r="2.85"/><circle cx="771.6" cy="618.2" r="2.85"/><circle cx="781.1" cy="617.4" r="2.85"/><circle cx="789.2" cy="619.0" r="2.85"/><circle cx="794.1" cy="618.2" r="2.85"/><circle cx="808.9" cy="618.2" r="2.85"/><circle cx="817.0" cy="619.0" r="2.85"/><circle cx="825.2" cy="618.2" r="2.85"/><circle cx="831.8" cy="619.0" r="2.85"/><circle cx="756.0" cy="621.5" r="2.85"/><circle cx="790.0" cy="621.5" r="2.85"/><circle cx="782.7" cy="621.5" r="2.85"/><circle cx="803.9" cy="619.9" r="2.85"/><circle cx="819.5" cy="621.5" r="2.85"/><circle cx="826.8" cy="621.5" r="2.85"/><circle cx="845.0" cy="527.9" r="2.85"/><circle cx="861.8" cy="530.2" r="2.85"/><circle cx="894.1" cy="532.4" r="2.85"/><circle cx="915.3" cy="536.1" r="2.85"/><circle cx="948.0" cy="528.6" r="2.85"/><circle cx="837.6" cy="533.2" r="2.85"/><circle cx="847.4" cy="535.6" r="2.85"/><circle cx="844.2" cy="541.4" r="2.85"/><circle cx="899.5" cy="545.9" r="2.85"/><circle cx="901.4" cy="553.1" r="2.85"/><circle cx="959.5" cy="547.9" r="2.85"/><circle cx="962.8" cy="551.2" r="2.85"/><circle cx="848.3" cy="559.7" r="2.85"/><circle cx="853.2" cy="559.7" r="2.85"/><circle cx="885.1" cy="557.7" r="2.85"/><circle cx="919.4" cy="562.9" r="2.85"/><circle cx="945.9" cy="557.4" r="2.85"/><circle cx="875.3" cy="568.3" r="2.85"/><circle cx="901.4" cy="569.5" r="2.85"/><circle cx="905.0" cy="571.6" r="2.85"/><circle cx="936.6" cy="567.9" r="2.85"/><circle cx="952.5" cy="567.9" r="2.85"/><circle cx="839.3" cy="573.2" r="2.85"/><circle cx="851.5" cy="573.7" r="2.85"/><circle cx="930.0" cy="574.9" r="2.85"/><circle cx="888.3" cy="579.0" r="2.85"/><circle cx="841.7" cy="579.8" r="2.85"/><circle cx="856.4" cy="583.6" r="2.85"/><circle cx="862.2" cy="582.2" r="2.85"/><circle cx="867.9" cy="583.1" r="2.85"/><circle cx="873.6" cy="582.6" r="2.85"/><circle cx="876.9" cy="584.7" r="2.85"/><circle cx="886.7" cy="585.8" r="2.85"/><circle cx="891.6" cy="584.7" r="2.85"/><circle cx="963.6" cy="582.6" r="2.85"/><circle cx="974.2" cy="581.9" r="2.85"/><circle cx="837.6" cy="586.3" r="2.85"/><circle cx="853.2" cy="588.0" r="2.85"/><circle cx="904.7" cy="588.0" r="2.85"/><circle cx="917.5" cy="586.3" r="2.85"/><circle cx="966.8" cy="588.8" r="2.85"/><circle cx="970.1" cy="589.6" r="2.85"/><circle cx="844.2" cy="591.2" r="2.85"/><circle cx="860.2" cy="591.7" r="2.85"/><circle cx="870.3" cy="591.7" r="2.85"/><circle cx="892.4" cy="590.4" r="2.85"/><circle cx="896.5" cy="593.7" r="2.85"/><circle cx="919.7" cy="593.7" r="2.85"/><circle cx="964.4" cy="595.3" r="2.85"/><circle cx="846.6" cy="595.3" r="2.85"/><circle cx="880.2" cy="594.5" r="2.85"/><circle cx="877.7" cy="597.0" r="2.85"/><circle cx="885.9" cy="598.3" r="2.85"/><circle cx="897.3" cy="597.0" r="2.85"/><circle cx="903.1" cy="595.3" r="2.85"/><circle cx="924.3" cy="598.6" r="2.85"/><circle cx="930.0" cy="597.8" r="2.85"/><circle cx="849.1" cy="601.5" r="2.85"/><circle cx="864.6" cy="599.9" r="2.85"/><circle cx="867.9" cy="599.4" r="2.85"/><circle cx="871.2" cy="599.4" r="2.85"/><circle cx="927.6" cy="602.7" r="2.85"/><circle cx="845.0" cy="605.1" r="2.85"/><circle cx="857.3" cy="606.8" r="2.85"/><circle cx="860.5" cy="607.6" r="2.85"/><circle cx="863.8" cy="608.4" r="2.85"/><circle cx="886.7" cy="605.1" r="2.85"/><circle cx="908.8" cy="604.3" r="2.85"/><circle cx="911.2" cy="606.0" r="2.85"/><circle cx="918.6" cy="607.6" r="2.85"/><circle cx="933.3" cy="606.8" r="2.85"/><circle cx="941.5" cy="603.8" r="2.85"/><circle cx="963.6" cy="609.2" r="2.85"/><circle cx="850.7" cy="610.1" r="2.85"/><circle cx="879.3" cy="610.9" r="2.85"/><circle cx="886.7" cy="609.2" r="2.85"/><circle cx="891.6" cy="610.1" r="2.85"/><circle cx="901.4" cy="608.4" r="2.85"/><circle cx="914.5" cy="610.1" r="2.85"/><circle cx="920.2" cy="610.9" r="2.85"/><circle cx="937.4" cy="611.7" r="2.85"/><circle cx="840.1" cy="614.1" r="2.85"/><circle cx="885.1" cy="614.1" r="2.85"/><circle cx="909.6" cy="614.1" r="2.85"/><circle cx="932.5" cy="613.3" r="2.85"/><circle cx="940.7" cy="614.6" r="2.85"/><circle cx="945.6" cy="615.0" r="2.85"/><circle cx="952.1" cy="613.3" r="2.85"/><circle cx="957.0" cy="612.5" r="2.85"/><circle cx="973.4" cy="614.1" r="2.85"/><circle cx="866.3" cy="618.6" r="2.85"/><circle cx="876.9" cy="619.0" r="2.85"/><circle cx="880.2" cy="619.0" r="2.85"/><circle cx="885.1" cy="619.5" r="2.85"/><circle cx="910.4" cy="617.9" r="2.85"/><circle cx="921.1" cy="618.2" r="2.85"/><circle cx="928.4" cy="616.6" r="2.85"/><circle cx="948.0" cy="619.0" r="2.85"/><circle cx="960.3" cy="617.9" r="2.85"/><circle cx="968.5" cy="617.4" r="2.85"/><circle cx="838.5" cy="623.1" r="2.85"/><circle cx="860.2" cy="623.1" r="2.85"/><circle cx="890.8" cy="620.7" r="2.85"/><circle cx="899.8" cy="622.3" r="2.85"/><circle cx="903.1" cy="622.8" r="2.85"/><circle cx="917.8" cy="623.1" r="2.85"/><circle cx="929.2" cy="622.8" r="2.85"/><circle cx="954.6" cy="621.5" r="2.85"/><circle cx="962.8" cy="621.2" r="2.85"/><circle cx="983.4" cy="533.5" r="2.85"/><circle cx="999.7" cy="531.2" r="2.85"/><circle cx="1057.8" cy="536.1" r="2.85"/><circle cx="1056.1" cy="538.9" r="2.85"/><circle cx="1092.9" cy="532.4" r="2.85"/><circle cx="1082.3" cy="537.8" r="2.85"/><circle cx="1086.4" cy="541.7" r="2.85"/><circle cx="981.7" cy="549.5" r="2.85"/><circle cx="1000.2" cy="546.3" r="2.85"/><circle cx="1011.7" cy="550.4" r="2.85"/><circle cx="1023.4" cy="548.2" r="2.85"/><circle cx="1031.9" cy="557.7" r="2.85"/><circle cx="1042.7" cy="554.8" r="2.85"/><circle cx="1060.2" cy="562.6" r="2.85"/><circle cx="1085.9" cy="551.2" r="2.85"/><circle cx="1048.0" cy="568.3" r="2.85"/><circle cx="1088.0" cy="563.9" r="2.85"/><circle cx="995.3" cy="575.4" r="2.85"/><circle cx="1003.5" cy="573.7" r="2.85"/><circle cx="1016.9" cy="579.8" r="2.85"/><circle cx="1030.0" cy="577.0" r="2.85"/><circle cx="1032.4" cy="578.2" r="2.85"/><circle cx="1048.0" cy="577.7" r="2.85"/><circle cx="1056.1" cy="575.7" r="2.85"/><circle cx="1066.8" cy="573.7" r="2.85"/><circle cx="1095.4" cy="572.8" r="2.85"/><circle cx="1091.3" cy="577.0" r="2.85"/><circle cx="1104.9" cy="575.7" r="2.85"/><circle cx="976.8" cy="581.4" r="2.85"/><circle cx="998.9" cy="581.4" r="2.85"/><circle cx="1003.0" cy="582.2" r="2.85"/><circle cx="986.6" cy="587.2" r="2.85"/><circle cx="992.4" cy="586.3" r="2.85"/><circle cx="976.8" cy="589.6" r="2.85"/><circle cx="996.4" cy="592.4" r="2.85"/><circle cx="1053.7" cy="589.6" r="2.85"/><circle cx="1073.8" cy="591.2" r="2.85"/><circle cx="1078.2" cy="591.2" r="2.85"/><circle cx="1102.8" cy="589.1" r="2.85"/><circle cx="1034.1" cy="593.7" r="2.85"/><circle cx="1037.3" cy="594.5" r="2.85"/><circle cx="1040.6" cy="595.0" r="2.85"/><circle cx="1012.3" cy="597.0" r="2.85"/><circle cx="1010.0" cy="603.5" r="2.85"/><circle cx="986.6" cy="601.9" r="2.85"/><circle cx="996.9" cy="601.1" r="2.85"/><circle cx="1064.3" cy="604.3" r="2.85"/><circle cx="980.9" cy="607.6" r="2.85"/><circle cx="1031.6" cy="607.6" r="2.85"/><circle cx="1018.5" cy="610.1" r="2.85"/><circle cx="1021.0" cy="611.4" r="2.85"/><circle cx="1057.8" cy="613.3" r="2.85"/><circle cx="996.9" cy="612.5" r="2.85"/><circle cx="976.8" cy="614.1" r="2.85"/><circle cx="995.6" cy="615.8" r="2.85"/><circle cx="984.2" cy="619.0" r="2.85"/><circle cx="989.1" cy="618.2" r="2.85"/><circle cx="993.2" cy="617.9" r="2.85"/><circle cx="1010.3" cy="616.9" r="2.85"/><circle cx="1013.3" cy="615.8" r="2.85"/><circle cx="1024.2" cy="616.3" r="2.85"/><circle cx="985.0" cy="623.1" r="2.85"/><circle cx="990.7" cy="623.1" r="2.85"/><circle cx="1003.0" cy="622.3" r="2.85"/><circle cx="1007.1" cy="623.5" r="2.85"/><circle cx="1018.5" cy="623.5" r="2.85"/><circle cx="1045.0" cy="622.8" r="2.85"/><circle cx="1056.1" cy="618.2" r="2.85"/><circle cx="1055.8" cy="623.5" r="2.85"/><circle cx="1061.1" cy="622.8" r="2.85"/><circle cx="1066.8" cy="622.3" r="2.85"/><circle cx="1086.9" cy="622.3" r="2.85"/><circle cx="1242.3" cy="527.0" r="2.85"/><circle cx="1274.1" cy="538.7" r="2.85"/><circle cx="1181.1" cy="542.8" r="2.85"/><circle cx="1145.3" cy="546.2" r="2.85"/><circle cx="1248.6" cy="548.2" r="2.85"/><circle cx="1124.1" cy="567.4" r="2.85"/><circle cx="1173.4" cy="571.9" r="2.85"/></g></g>
<rect x="556.5" y="98.7" width="842.9" height="547" fill="none" stroke="#000" stroke-width="2.7"/>
<g stroke="#000" stroke-width="2.2">
<line x1="547.3" y1="121.3" x2="556.5" y2="121.3"/>
<line x1="547.3" y1="189.3" x2="556.5" y2="189.3"/>
<line x1="547.3" y1="257.4" x2="556.5" y2="257.4"/>
<line x1="547.3" y1="325.4" x2="556.5" y2="325.4"/>
<line x1="547.3" y1="393.4" x2="556.5" y2="393.4"/>
<line x1="547.3" y1="461.5" x2="556.5" y2="461.5"/>
<line x1="547.3" y1="529.5" x2="556.5" y2="529.5"/>
<line x1="547.3" y1="597.5" x2="556.5" y2="597.5"/>
<line x1="613.1" y1="645.7" x2="613.1" y2="654.2"/>
<line x1="757.9" y1="645.7" x2="757.9" y2="654.2"/>
<line x1="902.7" y1="645.7" x2="902.7" y2="654.2"/>
<line x1="1047.6" y1="645.7" x2="1047.6" y2="654.2"/>
<line x1="1192.4" y1="645.7" x2="1192.4" y2="654.2"/>
<line x1="1337.2" y1="645.7" x2="1337.2" y2="654.2"/>
</g>
<g font-size="30" text-anchor="end">
<text x="536.5" y="134.5">4</text>
<text x="536.5" y="268.6">3</text>
<text x="536.5" y="402.9">2</text>
<text x="536.5" y="537.3">1</text>
</g>
<g font-size="30" text-anchor="middle">
<text x="613.1" y="682.3">1</text>
<text x="757.9" y="682.3">2</text>
<text x="902.7" y="682.3">3</text>
<text x="1047.6" y="682.3">4</text>
<text x="1192.4" y="682.3">5</text>
<text x="1337.2" y="682.3">6</text>
</g>
<text x="715.2" y="727.8" font-size="30.25">Decoding time of first ten codons [sec]</text>
<text transform="translate(467.1,497.2) rotate(-90)" font-size="30">Probability of observing</text>
<text transform="translate(500.6,522.3) rotate(-90)" font-size="30">more extreme speed [log<tspan font-size="21" dy="6">10</tspan><tspan dy="-6">]</tspan></text>
</svg>
</body></html>
